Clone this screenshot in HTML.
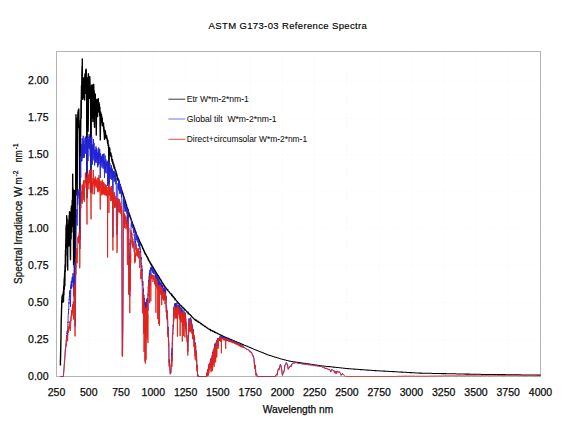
<!DOCTYPE html>
<html><head><meta charset="utf-8"><style>
html,body{margin:0;padding:0;background:#fff;}
svg{display:block;font-family:"Liberation Sans", sans-serif;}
text{stroke:#000;stroke-width:0.25px;}
.lg text{stroke-width:0.05px;}
</style></head><body>
<svg width="576" height="432" viewBox="0 0 576 432">
<rect width="576" height="432" fill="#fff"/>
<line x1="56.5" y1="51.5" x2="56.5" y2="376.5" stroke="#f6f6f6" stroke-width="1" stroke-dasharray="1,2"/><line x1="88.8" y1="51.5" x2="88.8" y2="376.5" stroke="#f6f6f6" stroke-width="1" stroke-dasharray="1,2"/><line x1="121.0" y1="51.5" x2="121.0" y2="376.5" stroke="#f6f6f6" stroke-width="1" stroke-dasharray="1,2"/><line x1="153.3" y1="51.5" x2="153.3" y2="376.5" stroke="#f6f6f6" stroke-width="1" stroke-dasharray="1,2"/><line x1="185.6" y1="51.5" x2="185.6" y2="376.5" stroke="#f6f6f6" stroke-width="1" stroke-dasharray="1,2"/><line x1="217.8" y1="51.5" x2="217.8" y2="376.5" stroke="#f6f6f6" stroke-width="1" stroke-dasharray="1,2"/><line x1="250.1" y1="51.5" x2="250.1" y2="376.5" stroke="#f6f6f6" stroke-width="1" stroke-dasharray="1,2"/><line x1="282.4" y1="51.5" x2="282.4" y2="376.5" stroke="#f6f6f6" stroke-width="1" stroke-dasharray="1,2"/><line x1="314.6" y1="51.5" x2="314.6" y2="376.5" stroke="#f6f6f6" stroke-width="1" stroke-dasharray="1,2"/><line x1="346.9" y1="51.5" x2="346.9" y2="376.5" stroke="#f6f6f6" stroke-width="1" stroke-dasharray="1,2"/><line x1="379.2" y1="51.5" x2="379.2" y2="376.5" stroke="#f6f6f6" stroke-width="1" stroke-dasharray="1,2"/><line x1="411.4" y1="51.5" x2="411.4" y2="376.5" stroke="#f6f6f6" stroke-width="1" stroke-dasharray="1,2"/><line x1="443.7" y1="51.5" x2="443.7" y2="376.5" stroke="#f6f6f6" stroke-width="1" stroke-dasharray="1,2"/><line x1="476.0" y1="51.5" x2="476.0" y2="376.5" stroke="#f6f6f6" stroke-width="1" stroke-dasharray="1,2"/><line x1="508.2" y1="51.5" x2="508.2" y2="376.5" stroke="#f6f6f6" stroke-width="1" stroke-dasharray="1,2"/><line x1="540.5" y1="51.5" x2="540.5" y2="376.5" stroke="#f6f6f6" stroke-width="1" stroke-dasharray="1,2"/><line x1="56.5" y1="376.5" x2="540.5" y2="376.5" stroke="#f6f6f6" stroke-width="1" stroke-dasharray="1,2"/><line x1="56.5" y1="339.6" x2="540.5" y2="339.6" stroke="#f6f6f6" stroke-width="1" stroke-dasharray="1,2"/><line x1="56.5" y1="302.6" x2="540.5" y2="302.6" stroke="#f6f6f6" stroke-width="1" stroke-dasharray="1,2"/><line x1="56.5" y1="265.7" x2="540.5" y2="265.7" stroke="#f6f6f6" stroke-width="1" stroke-dasharray="1,2"/><line x1="56.5" y1="228.8" x2="540.5" y2="228.8" stroke="#f6f6f6" stroke-width="1" stroke-dasharray="1,2"/><line x1="56.5" y1="191.8" x2="540.5" y2="191.8" stroke="#f6f6f6" stroke-width="1" stroke-dasharray="1,2"/><line x1="56.5" y1="154.9" x2="540.5" y2="154.9" stroke="#f6f6f6" stroke-width="1" stroke-dasharray="1,2"/><line x1="56.5" y1="118.0" x2="540.5" y2="118.0" stroke="#f6f6f6" stroke-width="1" stroke-dasharray="1,2"/><line x1="56.5" y1="81.0" x2="540.5" y2="81.0" stroke="#f6f6f6" stroke-width="1" stroke-dasharray="1,2"/>
<rect x="56.5" y="51.5" width="484" height="325" fill="none" stroke="#b4b4b4" stroke-width="1"/>
<path fill="none" stroke="#000" stroke-width="1.4" stroke-linejoin="round" d="M60.4 365.4L60.4 362.6L60.5 359.7L60.6 356.2L60.6 353.2L60.7 351.4L60.8 347.0L60.8 343.4L60.9 341.8L61.0 337.2L61.0 332.9L61.1 329.7L61.1 326.8L61.2 321.7L61.3 317.6L61.3 318.1L61.4 315.0L61.5 311.6L61.5 311.3L61.6 307.0L61.7 308.1L61.7 300.0L61.8 299.7L61.9 299.0L61.9 298.0L62.0 299.7L62.0 297.0L62.1 301.6L62.2 302.2L62.2 296.0L62.3 298.1L62.4 296.5L62.4 295.3L62.5 302.4L62.6 297.4L62.6 295.2L62.7 299.6L62.8 295.2L62.8 302.4L62.9 295.0L63.0 293.8L63.0 294.4L63.1 295.2L63.1 296.2L63.2 301.5L63.3 298.3L63.3 293.9L63.4 291.2L63.5 291.6L63.5 301.3L63.6 292.7L63.7 295.0L63.7 287.1L63.8 286.0L63.9 295.1L63.9 290.1L64.0 285.4L64.1 284.6L64.1 281.4L64.2 281.2L64.2 279.1L64.3 289.6L64.4 282.2L64.4 276.9L64.5 285.4L64.6 275.7L64.6 273.4L64.7 280.2L64.8 285.7L64.8 270.2L64.9 282.2L65.0 269.9L65.0 267.8L65.1 264.7L65.1 265.5L65.2 272.3L65.3 264.6L65.3 271.4L65.4 254.3L65.5 253.6L65.5 250.0L65.6 267.1L65.7 263.7L65.7 244.3L65.8 244.1L65.9 238.8L65.9 248.6L66.0 228.9L66.1 226.8L66.1 231.5L66.2 225.1L66.2 241.3L66.3 235.4L66.4 226.4L66.4 228.1L66.5 229.8L66.6 233.7L66.6 239.9L66.7 215.8L66.8 229.9L66.8 217.0L66.9 225.2L67.0 237.4L67.0 242.1L67.1 237.7L67.1 218.9L67.2 227.3L67.3 225.4L67.3 255.3L67.4 236.9L67.5 246.9L67.5 255.9L67.6 253.5L67.7 270.1L67.7 257.8L67.8 239.4L67.9 241.7L67.9 228.3L68.0 240.1L68.1 229.1L68.1 225.5L68.2 227.0L68.2 238.6L68.3 240.5L68.4 230.6L68.4 239.5L68.5 230.0L68.6 224.0L68.6 227.6L68.7 229.1L68.8 246.0L68.8 220.8L68.9 219.6L69.0 231.6L69.0 245.6L69.1 242.9L69.1 234.5L69.2 215.6L69.3 237.2L69.3 232.0L69.4 214.9L69.5 223.1L69.5 211.6L69.6 234.0L69.7 230.1L69.7 232.9L69.8 230.5L69.9 213.7L69.9 231.7L70.0 213.7L70.1 212.1L70.1 221.8L70.2 230.4L70.2 232.6L70.3 251.3L70.4 259.2L70.4 253.5L70.5 259.7L70.6 244.3L70.6 246.0L70.7 223.9L70.8 235.8L70.8 219.3L70.9 222.8L71.0 226.8L71.0 221.0L71.1 212.6L71.1 238.9L71.2 208.3L71.3 214.4L71.3 221.9L71.4 206.2L71.5 208.2L71.5 229.6L71.6 228.4L71.7 222.0L71.7 232.1L71.8 225.4L71.9 208.1L71.9 219.8L72.0 208.0L72.1 222.8L72.1 208.2L72.2 200.3L72.2 226.4L72.3 215.6L72.4 215.0L72.4 204.3L72.5 211.1L72.6 193.8L72.6 195.7L72.7 174.2L72.8 189.3L72.8 203.8L72.9 201.1L73.0 208.0L73.0 196.9L73.1 216.4L73.1 188.7L73.2 220.9L73.3 203.1L73.3 196.8L73.4 219.8L73.5 223.9L73.5 237.9L73.6 264.5L73.7 252.4L73.7 258.3L73.8 239.5L73.9 229.5L73.9 219.8L74.0 203.2L74.1 212.1L74.1 223.5L74.2 198.7L74.2 194.1L74.3 194.1L74.4 204.4L74.4 222.3L74.5 190.5L74.6 220.9L74.6 203.7L74.7 193.5L74.8 210.0L74.8 222.6L74.9 261.3L75.0 283.4L75.0 290.6L75.1 277.4L75.2 263.4L75.2 240.9L75.3 231.0L75.3 246.4L75.4 269.7L75.5 275.1L75.5 238.1L75.6 209.5L75.7 188.0L75.7 174.6L75.8 147.5L75.9 134.0L76.0 114.7L76.1 124.5L76.2 155.9L76.4 173.3L76.5 143.1L76.6 118.3L76.8 119.7L76.9 132.1L77.0 163.7L77.2 195.0L77.3 163.1L77.4 133.4L77.5 118.3L77.7 125.9L77.8 117.0L77.9 112.4L78.1 120.9L78.2 110.3L78.3 122.1L78.4 125.1L78.6 127.2L78.7 116.2L78.8 108.9L79.0 125.7L79.1 124.9L79.2 128.8L79.3 129.4L79.5 157.0L79.6 198.3L79.7 237.2L79.9 239.1L80.0 207.5L80.1 165.8L80.2 163.3L80.4 135.2L80.5 120.3L80.6 136.4L80.8 117.7L80.9 118.4L81.0 100.4L81.2 118.1L81.3 102.5L81.4 94.2L81.5 85.6L81.7 94.5L81.8 84.9L81.9 72.9L82.1 66.1L82.2 73.5L82.3 58.9L82.4 81.0L82.6 99.2L82.7 99.1L82.8 99.3L83.0 95.3L83.1 87.3L83.2 88.9L83.3 86.0L83.5 86.4L83.6 77.9L83.7 97.4L83.9 83.7L84.0 78.8L84.1 89.1L84.2 96.6L84.4 95.7L84.5 99.0L84.6 100.0L84.8 80.1L84.9 74.0L85.0 87.7L85.2 85.4L85.3 93.6L85.4 81.2L85.5 90.2L85.7 70.1L85.8 69.6L85.9 83.4L86.1 69.2L86.2 69.6L86.3 71.4L86.4 78.2L86.6 81.4L86.7 108.6L86.8 166.8L87.0 197.5L87.1 165.7L87.2 118.1L87.3 77.7L87.5 81.1L87.6 79.1L87.7 81.6L87.9 79.5L88.0 112.4L88.1 131.3L88.3 117.5L88.4 73.7L88.5 82.5L88.6 89.9L88.8 84.6L88.9 79.3L89.0 96.5L89.2 93.0L89.3 98.3L89.4 95.4L89.5 98.1L89.7 78.7L89.8 76.6L89.9 80.8L90.1 86.1L90.2 93.2L90.3 87.4L90.4 91.1L90.6 106.4L90.7 120.1L90.8 177.1L91.0 192.2L91.1 170.0L91.2 133.9L91.3 105.4L91.5 89.7L91.6 85.5L91.7 98.3L91.9 85.5L92.0 85.0L92.1 106.0L92.3 115.9L92.4 118.3L92.5 87.7L92.6 106.8L92.8 105.9L92.9 121.5L93.0 113.5L93.2 92.1L93.3 89.8L93.4 84.5L93.5 90.7L93.7 84.4L93.8 88.5L93.9 103.4L94.1 90.7L94.2 91.4L94.3 104.2L94.4 124.3L94.6 127.2L94.7 115.7L94.8 106.8L95.0 104.8L95.1 101.3L95.2 94.0L95.3 94.2L95.5 104.9L95.6 104.0L95.7 107.8L95.9 106.0L96.0 103.0L96.1 111.9L96.3 135.0L96.4 121.1L96.5 106.4L96.6 105.0L96.8 99.8L96.9 99.4L97.0 103.3L97.2 102.1L97.3 107.0L97.4 114.7L97.5 116.5L97.7 106.2L97.8 102.3L97.9 110.2L98.1 101.9L98.2 108.3L98.3 98.8L98.4 104.0L98.6 105.4L98.7 110.2L98.8 111.7L99.0 102.4L99.1 108.9L99.2 109.5L99.4 104.1L99.5 113.3L99.6 110.0L99.7 116.0L99.9 107.1L100.0 114.8L100.1 125.6L100.3 139.9L100.4 129.6L100.5 116.6L100.6 111.9L100.8 114.0L100.9 113.2L101.0 119.4L101.2 115.2L101.3 115.9L101.4 114.4L101.5 115.0L101.7 122.5L101.8 116.8L101.9 122.7L102.1 120.6L102.2 125.0L102.3 118.1L102.4 125.7L102.6 124.6L102.7 123.3L102.8 125.2L103.0 125.9L103.1 124.1L103.2 126.3L103.4 123.6L103.5 123.0L103.6 128.4L103.7 127.4L103.9 131.6L104.0 127.0L104.1 132.0L104.3 134.6L104.4 136.5L104.5 139.4L104.6 132.0L104.8 130.2L104.9 130.4L105.0 131.6L105.2 130.6L105.3 131.2L105.4 131.1L105.5 137.4L105.7 133.8L105.8 136.0L105.9 135.3L106.1 137.6L106.2 138.4L106.3 136.2L106.4 137.5L106.6 135.6L106.7 136.9L106.8 137.1L107.0 138.1L107.1 138.7L107.2 140.5L107.4 139.7L107.5 140.2L107.6 143.4L107.7 139.9L107.9 140.5L108.0 141.1L108.1 145.5L108.3 144.7L108.4 145.7L108.5 147.5L108.6 145.0L108.8 159.2L108.9 184.2L109.0 175.4L109.2 152.8L109.3 149.7L109.4 147.6L109.5 149.1L109.7 147.9L109.8 149.3L109.9 153.0L110.1 153.1L110.2 152.1L110.3 153.6L110.4 154.6L110.6 152.6L110.7 156.0L110.8 154.1L111.0 153.5L111.1 155.5L111.2 156.3L111.4 157.2L111.5 157.6L111.6 155.8L111.7 158.5L111.9 160.2L112.0 159.6L112.1 161.4L112.3 160.0L112.4 161.6L112.5 159.6L112.6 162.9L112.8 161.5L112.9 163.7L113.0 162.0L113.2 163.6L113.3 164.9L113.4 164.8L113.5 164.9L113.7 166.7L113.8 164.1L113.9 164.6L114.1 166.4L114.2 168.4L114.3 167.8L114.5 167.0L114.6 166.9L114.7 168.3L114.8 168.8L115.0 169.2L115.1 170.1L115.2 169.4L115.4 171.8L115.5 170.3L115.6 170.2L115.7 171.3L115.9 173.7L116.0 171.6L116.1 172.3L116.3 174.8L116.4 173.4L116.5 175.4L116.6 173.4L116.8 176.3L116.9 174.7L117.0 175.0L117.2 177.0L117.3 178.3L117.4 178.6L117.5 178.3L117.7 179.2L117.8 179.9L117.9 178.9L118.1 178.2L118.2 180.6L118.3 179.6L118.5 179.8L118.6 180.8L118.7 180.0L118.8 180.4L119.0 181.3L119.1 182.7L119.2 183.5L119.4 184.6L119.5 184.6L119.6 185.4L119.7 184.8L119.9 185.5L120.0 185.5L120.1 184.6L120.3 185.0L120.4 187.2L120.5 186.1L120.6 188.1L120.8 187.6L120.9 187.0L121.0 188.7L121.2 188.8L121.3 188.3L121.4 189.1L121.5 189.6L121.7 190.1L121.8 191.5L121.9 190.5L122.1 191.6L122.2 192.5L122.3 193.8L122.5 192.1L122.6 192.4L122.7 193.1L122.8 193.5L123.0 193.8L123.1 194.1L123.2 194.7L123.4 195.2L123.5 196.2L123.6 197.0L123.7 196.7L123.9 196.7L124.0 197.0L124.1 197.7L124.3 197.9L124.4 199.0L124.5 200.4L124.6 200.4L124.8 199.6L124.9 199.7L125.0 200.2L125.2 201.3L125.3 201.5L125.4 202.7L125.6 201.8L125.7 202.5L125.8 203.9L125.9 204.0L126.1 204.3L126.2 205.7L126.3 204.3L126.5 204.8L126.6 206.0L126.7 206.4L126.8 207.8L127.0 208.2L127.1 207.7L127.2 208.5L127.4 208.7L127.5 208.0L127.6 209.3L127.7 209.1L127.9 209.6L128.0 209.6L128.1 209.8L128.3 211.9L128.4 212.0L128.5 212.5L128.6 211.9L128.8 212.5L128.9 212.5L129.0 213.7L129.2 214.7L129.3 214.9L129.4 215.7L129.6 214.6L129.7 215.9L129.8 215.2L129.9 216.4L130.1 216.0L130.2 217.1L130.3 217.5L130.5 217.4L130.6 217.8L130.7 218.9L130.8 218.8L131.0 219.0L131.1 218.9L131.2 219.5L131.4 221.0L131.5 221.6L131.6 220.7L131.7 222.1L131.9 222.4L132.0 221.6L132.1 222.0L132.3 223.1L132.4 222.8L132.5 224.4L132.6 223.6L132.8 224.6L132.9 225.0L133.0 224.4L133.2 226.0L133.3 225.3L133.4 225.4L133.6 225.7L133.7 226.6L133.8 227.3L133.9 227.0L134.1 228.4L134.2 227.8L134.3 229.1L134.5 228.2L134.6 228.8L134.7 229.0L134.8 229.8L135.0 230.0L135.1 230.5L135.2 231.6L135.4 231.5L135.5 231.9L135.6 231.9L135.7 233.0L135.9 232.8L136.0 233.6L136.1 234.3L136.3 234.1L136.4 234.1L136.5 234.2L136.7 235.6L136.8 235.6L136.9 235.9L137.0 235.3L137.2 235.9L137.3 236.9L137.4 236.2L137.6 237.4L137.7 237.2L137.8 237.0L137.9 237.5L138.1 237.4L138.2 238.5L138.3 238.9L138.5 238.2L138.6 238.8L138.7 239.8L138.8 239.2L139.0 240.0L139.1 240.7L139.2 240.6L139.4 240.3L139.5 241.7L139.6 241.7L139.7 241.7L139.9 241.7L140.0 242.3L140.1 242.3L140.3 242.3L140.4 242.5L140.5 242.8L140.7 243.2L140.8 243.5L140.9 244.3L141.0 244.5L141.2 244.8L141.3 245.5L141.4 244.8L141.6 245.4L141.7 245.3L141.8 246.0L141.9 245.9L142.1 246.2L142.2 246.5L142.3 247.1L142.5 247.9L142.6 247.5L142.7 248.4L142.8 248.0L143.0 248.4L143.1 248.9L143.2 248.7L143.4 249.4L143.5 249.9L143.6 250.5L143.7 249.8L143.9 251.0L144.0 251.0L144.1 251.3L144.3 251.0L144.4 252.2L144.5 251.7L144.7 252.3L144.8 252.5L144.9 253.3L145.0 253.1L145.2 253.9L145.3 253.1L145.4 253.9L145.6 254.1L145.7 254.2L145.8 254.6L145.9 254.8L146.1 254.8L146.2 255.4L146.3 255.0L146.5 255.7L146.6 255.9L146.7 255.9L146.8 256.6L147.0 256.9L147.1 256.6L147.2 257.0L147.4 257.0L147.5 257.8L147.6 257.5L147.8 257.9L147.9 258.4L148.0 258.7L148.1 258.5L148.3 259.8L148.4 259.2L148.5 259.9L148.7 259.7L148.8 260.3L148.9 260.3L149.0 260.5L149.2 260.9L149.3 261.3L149.4 261.6L149.6 262.0L149.7 261.7L149.8 261.8L149.9 262.2L150.1 262.5L150.2 263.0L150.3 263.0L150.5 263.1L150.6 263.1L150.7 263.8L150.8 263.6L151.0 264.2L151.1 264.6L151.2 264.7L151.4 264.4L151.5 264.8L151.6 265.7L151.8 265.0L151.9 265.8L152.0 265.8L152.1 266.2L152.3 266.1L152.4 266.1L152.5 266.7L152.7 266.4L152.8 267.5L152.9 267.6L153.0 267.4L153.2 267.8L153.3 268.0L153.4 268.7L153.6 267.9L153.7 268.4L153.8 268.7L153.9 269.3L154.1 269.5L154.2 269.3L154.3 269.2L154.5 270.0L154.6 270.0L154.7 269.9L154.8 270.6L155.0 270.6L155.1 270.7L155.2 270.9L155.4 271.3L155.5 271.3L155.6 271.6L155.8 272.4L155.9 272.1L156.0 272.1L156.1 272.6L156.3 273.2L156.4 273.4L156.5 273.4L156.7 273.9L156.8 273.9L156.9 274.0L157.0 274.0L157.2 274.0L157.3 274.7L157.4 274.8L157.6 275.4L157.7 274.9L157.8 275.7L157.9 275.3L158.1 276.2L158.2 276.5L158.3 275.8L158.5 276.2L158.6 277.1L158.7 277.3L158.8 277.2L159.0 276.9L159.1 277.1L159.2 277.4L159.4 278.3L159.5 278.4L159.6 278.2L159.8 278.7L159.9 279.1L160.0 278.7L160.1 279.5L160.3 279.1L160.4 279.4L160.5 279.4L160.7 279.7L160.8 280.2L160.9 280.0L161.0 280.6L161.2 280.5L161.3 281.3L161.4 280.9L161.6 281.2L161.7 281.5L161.8 281.9L161.9 282.4L162.1 282.5L162.2 282.7L162.3 282.9L162.5 283.0L162.6 283.0L162.7 283.1L162.9 283.9L163.0 283.7L163.1 284.1L163.2 283.9L163.4 284.3L163.5 284.3L163.6 284.7L163.8 285.2L163.9 285.1L164.0 285.6L164.1 285.4L164.3 285.8L164.4 286.0L164.5 286.3L164.7 286.3L164.8 286.9L164.9 287.2L165.0 287.3L165.2 286.9L165.3 287.3L165.4 287.4L165.6 287.7L165.7 287.5L165.8 288.1L165.9 288.0L166.1 288.6L166.2 288.1"/>
<path fill="none" stroke="#000" stroke-width="1.05" d="M166.2 288.1L166.3 288.5L166.5 288.7L166.6 289.2L166.7 289.2L166.9 288.9L167.0 289.2L167.1 289.7L167.2 289.6L167.4 289.6L167.5 290.3L167.6 290.4L167.8 290.1L167.9 290.4L168.0 290.9L168.1 290.5L168.3 291.2L168.4 291.3L168.5 291.4L168.7 291.5L168.8 291.6L168.9 291.7L169.0 291.8L169.2 291.7L169.3 292.1L169.4 292.4L169.6 292.4L169.7 292.7L169.8 292.7L169.9 293.1L170.1 293.2L170.2 292.9L170.3 293.5L170.5 293.3L170.6 293.4L170.7 293.5L170.9 293.8L171.0 294.1L171.1 294.1L171.2 294.2L171.4 294.8L171.5 294.6L171.6 295.1L171.8 294.8L171.9 295.3L172.0 295.2L172.1 295.7L172.3 295.7L172.4 295.9L172.5 295.7L172.7 296.3L172.8 296.1L172.9 296.6L173.0 296.8L173.2 296.5L173.3 296.6L173.4 297.2L173.6 297.5L173.7 297.6L173.8 297.4L174.0 297.9L174.1 297.5L174.2 297.7L174.3 298.1L174.5 298.2L174.6 298.6L174.7 298.4L174.9 298.7L175.0 299.2L175.1 298.9L175.2 299.1L175.4 299.4L175.5 299.8L175.6 299.4L175.8 299.9L175.9 299.9L176.0 300.0L176.1 300.1L176.3 300.3L176.4 300.6L176.5 300.6L176.7 300.8L176.8 301.1L176.9 301.4L177.0 301.3L177.2 301.4L177.3 301.9L177.4 301.6L177.6 301.7L177.7 302.3L177.8 302.1L178.0 302.2L178.1 302.4L178.2 302.6L178.3 302.7L178.5 303.2L178.6 303.0L178.7 303.1L178.9 303.3L179.0 303.9L179.1 303.7L179.2 303.8L179.4 304.2L179.5 304.5L179.6 304.4L179.8 304.7L179.9 304.5L180.0 304.7L180.1 304.9L180.3 304.9L180.4 305.0L180.5 305.1L180.7 305.3L180.8 305.7L180.9 305.8L181.0 305.6L181.2 305.8L181.3 306.2L181.4 306.4L181.6 306.3L181.7 306.6L181.8 306.4L182.0 306.9L182.1 307.0L182.2 306.9L182.3 306.9L182.5 307.0L182.6 307.4L182.7 307.5L182.9 307.4L183.0 307.7L183.1 308.1L183.2 307.7L183.4 307.9L183.5 308.0L183.6 308.3L183.8 308.4L183.9 308.8L184.0 308.5L184.1 308.7L184.3 309.3L184.4 308.9L184.5 309.1L184.7 309.3L184.8 309.3L184.9 309.5L185.1 309.8L185.2 310.0L185.3 310.1L185.4 310.2L185.6 310.4L185.7 310.2L185.8 310.6L186.0 310.7L186.1 310.7L186.2 310.9L186.3 310.9L186.5 311.4L186.6 311.2L186.7 311.3L186.9 311.7L187.0 311.9L187.1 312.0L187.2 312.1L187.4 312.1L187.5 312.2L187.6 312.4L187.8 312.5L187.9 312.9L188.0 312.6L188.1 313.0L188.3 312.8L188.4 313.0L188.5 313.5L188.7 313.3L188.8 313.5L188.9 313.9L189.1 313.9L189.2 313.9L189.3 314.1L189.4 314.4L189.6 314.5L189.7 314.3L189.8 314.4L190.0 314.6L190.1 314.7L190.2 315.1L190.3 315.2L190.5 315.0L190.6 315.1L190.7 315.4L190.9 315.7L191.0 315.8L191.1 315.8L191.2 316.0L191.4 316.3L191.5 316.4L191.6 316.2L191.8 316.6L191.9 316.8L192.0 317.0L192.1 316.8L192.3 316.9L192.4 317.1L192.5 317.2L192.7 317.3L192.8 317.7L192.9 317.7L193.1 317.9L193.2 318.0L193.3 317.9L193.4 318.0L193.6 318.2L193.7 318.6L193.8 318.6L194.0 318.8L194.1 318.9L194.2 319.1L194.3 319.3L194.5 319.3L194.6 319.4L194.7 319.6L194.9 319.5L195.0 319.7L195.1 319.4L195.2 319.5L195.4 320.0L195.5 319.8L195.6 319.9L195.8 319.9L195.9 320.2L196.0 320.1L196.2 320.4L196.3 320.3L196.4 320.6L196.5 320.8L196.7 320.7L196.8 320.7L196.9 320.9L197.1 321.1L197.2 321.1L197.3 321.0L197.4 321.0L197.6 321.5L197.7 321.4L197.8 321.3L198.0 321.6L198.1 321.7L198.2 321.6L198.3 322.0L198.5 321.8L198.6 321.9L198.7 322.0L198.9 322.1L199.0 322.4L199.1 322.4L199.2 322.3L199.4 322.5L199.5 322.5L199.6 322.8L199.8 322.9L199.9 322.7L200.0 323.0L200.2 323.0L200.3 323.1L200.4 323.3L200.5 323.5L200.7 323.3L200.8 323.5L200.9 323.5L201.1 323.5L201.2 323.8L201.3 323.7L201.4 324.0L201.6 324.1L201.7 324.0L201.8 324.2L202.0 324.2L202.1 324.5L202.2 324.4L202.3 324.6L202.5 324.7L202.6 324.8L202.7 324.7L202.9 325.1L203.0 325.0L203.1 325.2L203.2 325.2L203.4 325.3L203.5 325.4L203.6 325.4L203.8 325.6L203.9 325.6L204.0 325.8L204.2 325.9L204.3 326.1L204.4 326.0L204.5 326.0L204.7 326.4L204.8 326.3L204.9 326.3L205.1 326.5L205.2 326.4L205.3 326.8L205.4 326.8L205.6 326.8L205.7 326.8L205.8 327.1L206.0 327.2L206.1 327.2L206.2 327.4L206.3 327.2L206.5 327.5L206.6 327.6L206.7 327.6L206.9 327.5L207.0 327.8L207.1 327.8L207.2 327.8L207.4 328.2L207.5 328.2L207.6 328.3L207.8 328.4L207.9 328.4L208.0 328.5L208.2 328.4L208.3 328.6L208.4 328.7L208.5 328.9L208.7 328.9L208.8 328.9L208.9 329.0L209.1 329.1L209.2 329.4L209.3 329.3L209.4 329.4L209.6 329.5L209.7 329.5L209.8 329.6L210.0 329.7L210.1 329.6L210.2 330.0L210.3 329.9L210.5 329.8L210.6 330.2L210.7 330.0L210.9 330.2L211.0 330.2L211.1 330.2L211.3 330.3L211.4 330.4L211.5 330.4L211.6 330.4L211.8 330.6L211.9 330.6L212.0 330.8L212.2 330.7L212.3 330.7L212.4 331.0L212.5 330.9L212.7 331.1L212.8 331.1L212.9 331.3L213.1 331.1L213.2 331.4L213.3 331.3L213.4 331.3L213.6 331.5L213.7 331.5L213.8 331.6L214.0 331.7L214.1 331.6L214.2 331.9L214.3 331.8L214.5 332.1L214.6 331.9L214.7 332.0L214.9 332.2L215.0 332.1L215.1 332.2L215.3 332.5L215.4 332.3L215.5 332.3L215.6 332.4L215.8 332.6L215.9 332.7L216.0 332.8L216.2 332.8L216.3 332.8L216.4 332.8L216.5 332.9L216.7 333.0L216.8 333.2L216.9 333.1L217.1 333.1L217.2 333.3L217.3 333.3L217.4 333.3L217.6 333.6L217.7 333.7L217.8 333.6L218.0 333.8L218.1 333.7L218.2 333.9L218.3 333.9L218.5 334.0L218.6 334.0L218.7 334.0L218.9 334.2L219.0 334.2L219.1 334.2L219.3 334.4L219.4 334.4L219.5 334.6L219.6 334.5L219.8 334.6L219.9 334.6L220.0 334.6L220.2 334.7L220.3 334.8L220.4 334.9L220.5 334.9L220.7 335.2L220.8 335.1L220.9 335.1L221.1 335.3L221.2 335.4L221.3 335.4L221.4 335.5L221.6 335.6L221.7 335.5L221.8 335.7L222.0 335.6L222.1 335.9L222.2 335.8L222.4 335.8L222.5 335.9L222.6 336.0L222.7 336.2L222.9 336.2L223.0 336.3L223.1 336.2L223.3 336.3L223.4 336.3L223.5 336.5L223.6 336.4L223.8 336.6L223.9 336.6L224.0 336.8L224.2 336.9L224.3 336.8L224.4 337.0L224.5 336.9L224.7 337.0L224.8 337.0L224.9 337.1L225.1 337.2L225.2 337.2L225.3 337.2L225.4 337.3L225.6 337.4L225.7 337.5L225.8 337.4L226.0 337.5L226.1 337.5L226.2 337.6L226.4 337.6L226.5 337.7L226.6 337.8L226.7 337.8L226.9 337.9L227.0 337.9L227.1 337.9L227.3 338.0L227.4 338.1L227.5 338.1L227.6 338.1L227.8 338.3L227.9 338.4L228.0 338.3L228.2 338.3L228.3 338.5L228.4 338.5L228.5 338.5L228.7 338.8L228.8 338.6L228.9 338.8L229.1 338.8L229.2 338.8L229.3 338.8L229.4 338.9L229.6 339.0L229.7 339.2L229.8 339.0L230.0 339.1L230.1 339.1L230.2 339.2L230.4 339.3L230.5 339.5L230.6 339.5L230.7 339.6L230.9 339.5L231.0 339.7L231.1 339.7L231.3 339.6L231.4 339.8L231.5 339.8L231.6 339.8L231.8 340.0L231.9 339.9L232.0 339.9L232.2 340.1L232.3 340.1L232.4 340.1L232.5 340.2L232.7 340.2L232.8 340.4L232.9 340.4L233.1 340.5L233.2 340.5L233.3 340.6L233.5 340.7L233.6 340.7L233.7 340.8L233.8 340.7L234.0 340.7L234.1 340.9L234.2 340.8L234.4 341.0L234.5 341.0L234.6 341.1L234.7 341.2L234.9 341.1L235.0 341.3L235.1 341.3L235.3 341.4L235.4 341.4L235.5 341.5L235.6 341.5L235.8 341.5L235.9 341.7L236.0 341.7L236.2 341.8L236.3 341.7L236.4 341.8L236.5 341.9L236.7 342.0L236.8 342.0L236.9 342.1L237.1 342.1L237.2 342.1L237.3 342.2L237.5 342.2L237.6 342.3L237.7 342.4L237.8 342.5L238.0 342.5L238.1 342.6L238.2 342.6L238.4 342.6L238.5 342.7L238.6 342.7L238.7 342.7L238.9 342.8L239.0 343.0L239.1 343.0L239.3 342.9L239.4 343.0L239.5 343.1L239.6 343.2L239.8 343.1L239.9 343.2L240.0 343.3L240.2 343.4L240.3 343.5L240.4 343.4L240.5 343.5L240.7 343.6L240.8 343.6L240.9 343.7L241.1 343.7L241.2 343.8L241.3 343.8L241.5 343.9L241.6 344.0L241.7 344.1L241.8 344.1L242.0 344.1L242.1 344.2L242.2 344.2L242.4 344.3L242.5 344.4L242.6 344.4L242.7 344.5L242.9 344.5L243.0 344.5L243.1 344.5L243.3 344.7L243.4 344.7L243.5 344.8L243.6 344.7L244.3 345.1L244.9 345.4L245.6 345.6L246.2 345.9L246.9 346.1L247.5 346.5L248.2 346.7L248.8 347.0L249.5 347.2L250.1 347.5L250.7 347.8L251.4 348.0L252.0 348.4L252.7 348.6L253.3 348.9L254.0 349.2L254.6 349.4L255.3 349.8L255.9 350.1L256.6 350.3L257.2 350.5L257.8 350.8L258.5 351.0L259.1 351.3L259.8 351.5L260.4 351.8L261.1 352.1L261.7 352.3L262.4 352.6L263.0 352.8L263.7 353.1L264.3 353.4L264.9 353.6L265.6 353.9L266.2 354.1L266.9 354.4L267.5 354.7L268.2 354.9L268.8 355.1L269.5 355.5L270.1 355.6L270.8 355.8L271.4 356.0L272.0 356.1L272.7 356.4L273.3 356.6L274.0 356.7L274.6 357.0L275.3 357.2L275.9 357.3L276.6 357.5L277.2 357.8L277.8 357.9L278.5 358.1L279.1 358.3L279.8 358.5L280.4 358.7L281.1 358.9L281.7 359.1L282.4 359.2L283.0 359.4L283.7 359.6L284.3 359.7L284.9 359.9L285.6 360.0L286.2 360.2L286.9 360.4L287.5 360.6L288.2 360.7L288.8 360.9L289.5 361.0L290.1 361.2L290.8 361.3L291.4 361.4L292.0 361.4L292.7 361.6L293.3 361.7L294.0 361.7L294.6 361.9L295.3 362.0L295.9 362.0L296.6 362.2L297.2 362.2L297.9 362.3L298.5 362.4L299.1 362.5L299.8 362.6L300.4 362.7L301.1 362.8L301.7 362.9L302.4 363.0L303.0 363.1L303.7 363.2L304.3 363.3L305.0 363.3L305.6 363.5L306.2 363.6L306.9 363.7L307.5 363.7L308.2 363.8L308.8 363.9L309.5 364.0L310.1 364.1L310.8 364.2L311.4 364.3L312.1 364.4L312.7 364.5L313.3 364.6L314.0 364.7L314.6 364.8L315.3 364.9L315.9 365.0L316.6 365.1L317.2 365.2L317.9 365.3L318.5 365.4L319.2 365.4L319.8 365.6L320.4 365.7L321.1 365.7L321.7 365.8L322.4 365.9L323.0 366.0L323.7 366.0L324.3 366.1L325.0 366.2L325.6 366.2L326.2 366.3L326.9 366.4L327.5 366.4L328.2 366.5L328.8 366.6L329.5 366.6L330.1 366.7L330.8 366.8L331.4 366.8L332.1 366.9L332.7 367.0L333.3 367.1L334.0 367.1L334.6 367.2L335.3 367.3L335.9 367.3L336.6 367.4L337.2 367.5L337.9 367.5L338.5 367.6L339.2 367.7L339.8 367.8L340.4 367.8L341.1 367.9L341.7 368.0L342.4 368.0L343.0 368.1L343.7 368.2L344.3 368.3L345.0 368.3L345.6 368.4L346.3 368.5L346.9 368.5L347.5 368.6L348.2 368.6L348.8 368.7L349.5 368.7L350.1 368.8L350.8 368.8L351.4 368.9L352.1 368.9L352.7 369.0L353.4 369.0L354.0 369.1L354.6 369.1L355.3 369.2L355.9 369.2L356.6 369.3L357.2 369.3L357.9 369.3L358.5 369.4L359.2 369.4L359.8 369.5L360.5 369.6L361.1 369.6L361.7 369.6L362.4 369.7L363.0 369.7L363.7 369.8L364.3 369.8L365.0 369.9L365.6 369.9L366.3 370.0L366.9 370.0L367.6 370.1L368.2 370.1L368.8 370.2L369.5 370.2L370.1 370.3L370.8 370.3L371.4 370.3L372.1 370.4L372.7 370.5L373.4 370.5L374.0 370.5L374.6 370.6L375.3 370.6L375.9 370.6L376.6 370.7L377.2 370.7L377.9 370.8L378.5 370.8L379.2 370.8L379.8 370.9L380.5 370.9L381.1 370.9L381.7 371.0L382.4 371.0L383.0 371.0L383.7 371.1L384.3 371.1L385.0 371.1L385.6 371.2L386.3 371.2L386.9 371.3L387.6 371.3L388.2 371.3L388.8 371.4L389.5 371.4L390.1 371.4L390.8 371.5L391.4 371.5L392.1 371.5L392.7 371.6L393.4 371.6L394.0 371.6L394.7 371.7L395.3 371.7L395.9 371.8L396.6 371.8L397.2 371.8L397.9 371.9L398.5 371.9L399.2 371.9L399.8 372.0L400.5 372.0L401.1 372.1L401.8 372.1L402.4 372.1L403.0 372.2L403.7 372.2L404.3 372.2L405.0 372.3L405.6 372.3L406.3 372.3L406.9 372.4L407.6 372.4L408.2 372.4L408.9 372.5L409.5 372.5L410.1 372.6L410.8 372.6L411.4 372.6L412.1 372.7L412.7 372.7L413.4 372.7L414.0 372.8L414.7 372.8L415.3 372.9L416.0 372.9L416.6 372.9L417.2 373.0L417.9 373.0L418.5 373.0L419.2 373.1L419.8 373.1L420.5 373.1L421.1 373.1L421.8 373.1L422.4 373.2L423.0 373.2L423.7 373.2L424.3 373.2L425.0 373.2L425.6 373.2L426.3 373.2L426.9 373.2L427.6 373.3L428.2 373.3L428.9 373.3L429.5 373.3L430.1 373.3L430.8 373.3L431.4 373.3L432.1 373.4L432.7 373.4L433.4 373.4L434.0 373.4L434.7 373.4L435.3 373.4L436.0 373.4L436.6 373.5L437.2 373.5L437.9 373.5L438.5 373.5L439.2 373.5L439.8 373.5L440.5 373.5L441.1 373.6L441.8 373.6L442.4 373.6L443.1 373.6L443.7 373.6L444.3 373.6L445.0 373.6L445.6 373.6L446.3 373.7L446.9 373.7L447.6 373.7L448.2 373.7L448.9 373.7L449.5 373.7L450.2 373.7L450.8 373.8L451.4 373.8L452.1 373.8L452.7 373.8L453.4 373.8L454.0 373.8L454.7 373.8L455.3 373.8L456.0 373.9L456.6 373.9L457.3 373.9L457.9 373.9L458.5 373.9L459.2 373.9L459.8 373.9L460.5 374.0L461.1 374.0L461.8 374.0L462.4 374.0L463.1 374.0L463.7 374.0L464.4 374.0L465.0 374.1L465.6 374.1L466.3 374.1L466.9 374.1L467.6 374.1L468.2 374.1L468.9 374.1L469.5 374.1L470.2 374.2L470.8 374.2L471.4 374.2L472.1 374.2L472.7 374.2L473.4 374.2L474.0 374.2L474.7 374.3L475.3 374.3L476.0 374.3L476.6 374.3L477.3 374.3L477.9 374.3L478.5 374.3L479.2 374.3L479.8 374.3L480.5 374.3L481.1 374.4L481.8 374.4L482.4 374.4L483.1 374.4L483.7 374.4L484.4 374.4L485.0 374.4L485.6 374.4L486.3 374.4L486.9 374.4L487.6 374.4L488.2 374.4L488.9 374.5L489.5 374.5L490.2 374.5L490.8 374.5L491.5 374.5L492.1 374.5L492.7 374.5L493.4 374.5L494.0 374.5L494.7 374.5L495.3 374.5L496.0 374.5L496.6 374.5L497.3 374.6L497.9 374.6L498.6 374.6L499.2 374.6L499.8 374.6L500.5 374.6L501.1 374.6L501.8 374.6L502.4 374.6L503.1 374.6L503.7 374.6L504.4 374.6L505.0 374.6L505.7 374.7L506.3 374.7L506.9 374.7L507.6 374.7L508.2 374.7L508.9 374.7L509.5 374.7L510.2 374.7L510.8 374.7L511.5 374.7L512.1 374.7L512.8 374.8L513.4 374.8L514.0 374.8L514.7 374.8L515.3 374.8L516.0 374.8L516.6 374.8L517.3 374.8L517.9 374.8L518.6 374.8L519.2 374.8L519.8 374.8L520.5 374.8L521.1 374.9L521.8 374.9L522.4 374.9L523.1 374.9L523.7 374.9L524.4 374.9L525.0 374.9L525.7 374.9L526.3 374.9L526.9 374.9L527.6 374.9L528.2 374.9L528.9 375.0L529.5 375.0L530.2 375.0L530.8 375.0L531.5 375.0L532.1 375.0L532.8 375.0L533.4 375.0L534.0 375.0L534.7 375.0L535.3 375.0L536.0 375.0L536.6 375.0L537.3 375.1L537.9 375.1L538.6 375.1L539.2 375.1L539.9 375.1L540.5 375.1"/>
<path fill="none" stroke="#2323d4" stroke-width="0.9" d="M60.4 376.5L60.4 376.5L60.5 376.5L60.6 376.5L60.6 376.5L60.7 376.5L60.8 376.5L60.8 376.5L60.9 376.5L61.0 376.5L61.0 376.5L61.1 376.5L61.1 376.5L61.2 376.5L61.3 376.5L61.3 376.5L61.4 376.5L61.5 376.5L61.5 376.5L61.6 376.5L61.7 376.5L61.7 376.5L61.8 376.5L61.9 376.5L61.9 376.5L62.0 376.5L62.0 376.5L62.1 376.5L62.2 376.5L62.2 376.5L62.3 376.5L62.4 376.5L62.4 376.5L62.5 376.5L62.6 376.5L62.6 376.5L62.7 376.5L62.8 376.5L62.8 376.5L62.9 376.5L63.0 376.5L63.0 376.5L63.1 376.5L63.1 376.5L63.2 376.5L63.3 376.5L63.3 376.5L63.4 375.7L63.5 374.9L63.5 374.1L63.6 373.2L63.7 372.5L63.7 371.7L63.8 370.7L63.9 369.8L63.9 369.1L64.0 368.2L64.1 367.6L64.1 366.7L64.2 365.6L64.2 364.7L64.3 364.0L64.4 363.2L64.4 362.0L64.5 361.2L64.6 360.9L64.6 359.5L64.7 358.3L64.8 357.9L64.8 356.7L64.9 356.1L65.0 354.9L65.0 353.7L65.1 353.7L65.1 352.4L65.2 352.3L65.3 349.7L65.3 350.2L65.4 349.2L65.5 348.4L65.5 348.6L65.6 347.1L65.7 346.6L65.7 345.7L65.8 345.5L65.9 344.5L65.9 343.6L66.0 343.2L66.1 342.6L66.1 342.1L66.2 340.5L66.2 341.2L66.3 341.1L66.4 338.9L66.4 338.5L66.5 337.7L66.6 338.4L66.6 336.9L66.7 335.5L66.8 335.1L66.8 336.3L66.9 334.8L67.0 334.3L67.0 332.7L67.1 334.0L67.1 331.1L67.2 331.1L67.3 330.4L67.3 333.0L67.4 333.0L67.5 333.4L67.5 334.1L67.6 335.3L67.7 332.7L67.7 330.0L67.8 326.0L67.9 326.0L67.9 321.8L68.0 322.9L68.1 321.1L68.1 318.7L68.2 315.7L68.2 315.3L68.3 314.1L68.4 314.1L68.4 312.7L68.5 313.6L68.6 309.4L68.6 309.2L68.7 309.9L68.8 309.5L68.8 305.6L68.9 302.4L69.0 302.2L69.0 302.8L69.1 303.6L69.1 302.5L69.2 298.9L69.3 299.9L69.3 296.6L69.4 296.1L69.5 296.9L69.5 291.2L69.6 290.9L69.7 292.3L69.7 292.0L69.8 294.4L69.9 294.4L69.9 292.4L70.0 293.9L70.1 290.1L70.1 296.4L70.2 296.0L70.2 296.4L70.3 299.8L70.4 301.7L70.4 304.2L70.5 306.8L70.6 299.8L70.6 299.2L70.7 292.0L70.8 287.0L70.8 288.3L70.9 288.7L71.0 285.6L71.0 285.8L71.1 284.7L71.1 286.3L71.2 287.9L71.3 281.0L71.3 288.4L71.4 285.1L71.5 282.1L71.5 288.1L71.6 286.7L71.7 287.5L71.7 281.5L71.8 283.5L71.9 285.3L71.9 287.1L72.0 281.3L72.1 280.8L72.1 281.9L72.2 277.2L72.2 282.8L72.3 279.6L72.4 279.5L72.4 280.4L72.5 281.3L72.6 281.3L72.6 279.0L72.7 278.8L72.8 278.0L72.8 278.4L72.9 278.8L73.0 273.2L73.0 278.1L73.1 281.8L73.1 278.8L73.2 276.8L73.3 277.8L73.3 277.2L73.4 278.4L73.5 281.1L73.5 291.2L73.6 292.7L73.7 294.7L73.7 295.9L73.8 284.7L73.9 280.3L73.9 273.1L74.0 270.3L74.1 268.8L74.1 265.2L74.2 265.0L74.2 265.3L74.3 268.0L74.4 267.5L74.4 262.3L74.5 265.8L74.6 262.3L74.6 265.4L74.7 264.9L74.8 272.0L74.8 282.4L74.9 301.8L75.0 317.8L75.0 326.5L75.1 316.4L75.2 304.7L75.2 289.1L75.3 287.3L75.3 293.8L75.4 304.3L75.5 305.0L75.5 294.9L75.6 275.5L75.7 270.8L75.7 254.5L75.8 255.7L75.9 239.9L76.0 234.8L76.1 226.6L76.2 217.8L76.4 217.6L76.5 215.6L76.6 216.6L76.8 215.3L76.9 209.1L77.0 225.6L77.2 225.5L77.3 215.4L77.4 202.4L77.5 191.6L77.7 204.8L77.8 203.6L77.9 196.7L78.1 198.4L78.2 196.1L78.3 191.7L78.4 194.1L78.6 192.0L78.7 193.5L78.8 196.0L79.0 189.5L79.1 193.2L79.2 194.4L79.3 189.1L79.5 197.0L79.6 219.9L79.7 237.0L79.9 248.9L80.0 219.2L80.1 201.6L80.2 172.3L80.4 156.7L80.5 163.6L80.6 171.1L80.8 177.5L80.9 159.3L81.0 158.0L81.2 161.0L81.3 154.2L81.4 149.1L81.5 161.5L81.7 143.9L81.8 153.6L81.9 161.0L82.1 138.2L82.2 152.2L82.3 145.7L82.4 144.5L82.6 148.6L82.7 158.2L82.8 145.9L83.0 143.4L83.1 139.7L83.2 135.8L83.3 157.9L83.5 140.8L83.6 151.0L83.7 144.6L83.9 147.4L84.0 153.4L84.1 147.7L84.2 150.8L84.4 157.7L84.5 145.0L84.6 144.7L84.8 145.4L84.9 138.4L85.0 151.5L85.2 152.6L85.3 144.2L85.4 136.5L85.5 140.1L85.7 142.3L85.8 149.8L85.9 154.0L86.1 150.4L86.2 138.2L86.3 150.6L86.4 142.9L86.6 153.4L86.7 142.3L86.8 170.1L87.0 181.8L87.1 167.5L87.2 149.8L87.3 151.7L87.5 138.4L87.6 145.3L87.7 144.1L87.9 137.0L88.0 161.2L88.1 153.5L88.3 143.2L88.4 139.5L88.5 147.0L88.6 147.4L88.8 141.7L88.9 140.8L89.0 135.1L89.2 134.2L89.3 149.1L89.4 135.9L89.5 148.3L89.7 143.7L89.8 147.4L89.9 138.2L90.1 143.5L90.2 156.3L90.3 137.6L90.4 144.5L90.6 149.0L90.7 161.6L90.8 183.5L91.0 191.9L91.1 177.6L91.2 171.0L91.3 153.1L91.5 160.3L91.6 148.2L91.7 136.7L91.9 138.9L92.0 142.0L92.1 149.3L92.3 164.7L92.4 155.7L92.5 144.5L92.6 160.0L92.8 155.9L92.9 156.4L93.0 160.6L93.2 157.4L93.3 148.4L93.4 154.5L93.5 139.1L93.7 146.2L93.8 150.3L93.9 145.6L94.1 143.2L94.2 158.0L94.3 150.0L94.4 153.1L94.6 165.4L94.7 161.1L94.8 157.8L95.0 156.3L95.1 153.0L95.2 149.5L95.3 157.5L95.5 153.1L95.6 153.8L95.7 162.4L95.9 148.4L96.0 146.4L96.1 156.6L96.3 162.7L96.4 161.4L96.5 157.5L96.6 148.1L96.8 156.4L96.9 149.3L97.0 152.3L97.2 159.1L97.3 152.4L97.4 159.3L97.5 155.6L97.7 167.3L97.8 162.3L97.9 165.6L98.1 155.9L98.2 154.2L98.3 156.2L98.4 153.5L98.6 164.6L98.7 147.5L98.8 153.3L99.0 153.4L99.1 163.7L99.2 151.4L99.4 154.5L99.5 150.3L99.6 157.9L99.7 148.9L99.9 158.2L100.0 168.5L100.1 174.2L100.3 177.8L100.4 176.8L100.5 155.7L100.6 153.4L100.8 159.6L100.9 158.2L101.0 167.6L101.2 156.3L101.3 160.2L101.4 158.6L101.5 162.5L101.7 156.7L101.8 161.6L101.9 158.8L102.1 165.7L102.2 155.1L102.3 155.1L102.4 161.8L102.6 162.2L102.7 158.7L102.8 154.0L103.0 167.5L103.1 164.8L103.2 168.7L103.4 154.2L103.5 163.1L103.6 160.8L103.7 164.7L103.9 161.4L104.0 153.5L104.1 161.4L104.3 167.4L104.4 173.7L104.5 177.8L104.6 161.0L104.8 168.7L104.9 163.7L105.0 164.3L105.2 155.6L105.3 164.6L105.4 172.4L105.5 167.1L105.7 167.6L105.8 168.4L105.9 159.3L106.1 169.2L106.2 173.4L106.3 164.3L106.4 165.3L106.6 163.7L106.7 165.9L106.8 161.3L107.0 162.2L107.1 166.1L107.2 164.5L107.4 164.7L107.5 162.0L107.6 186.0L107.7 163.9L107.9 166.4L108.0 160.6L108.1 170.3L108.3 163.9L108.4 177.1L108.5 167.7L108.6 168.4L108.8 171.0L108.9 194.8L109.0 186.8L109.2 169.0L109.3 175.0L109.4 176.5L109.5 164.4L109.7 169.4L109.8 175.2L109.9 163.0L110.1 166.4L110.2 174.4L110.3 178.9L110.4 169.2L110.6 167.8L110.7 172.1L110.8 172.2L111.0 173.0L111.1 171.2L111.2 172.5L111.4 165.3L111.5 169.6L111.6 173.5L111.7 180.0L111.9 173.2L112.0 168.5L112.1 176.8L112.3 178.9L112.4 168.9L112.5 174.7L112.6 195.0L112.8 213.6L112.9 237.3L113.0 219.0L113.2 195.7L113.3 183.6L113.4 170.8L113.5 175.4L113.7 177.7L113.8 176.5L113.9 172.9L114.1 173.6L114.2 171.2L114.3 181.6L114.5 180.7L114.6 175.3L114.7 178.6L114.8 174.6L115.0 172.4L115.1 181.3L115.2 176.7L115.4 177.2L115.5 178.6L115.6 171.4L115.7 176.1L115.9 184.3L116.0 178.0L116.1 178.1L116.3 184.8L116.4 205.2L116.5 203.1L116.6 211.3L116.8 222.4L116.9 233.7L117.0 234.5L117.2 231.8L117.3 225.4L117.4 215.2L117.5 208.5L117.7 197.3L117.8 189.8L117.9 183.5L118.1 183.0L118.2 188.6L118.3 185.7L118.5 187.0L118.6 190.4L118.7 179.6L118.8 187.2L119.0 185.8L119.1 184.7L119.2 188.0L119.4 180.9L119.5 186.6L119.6 185.1L119.7 186.4L119.9 193.7L120.0 184.5L120.1 193.4L120.3 183.8L120.4 189.4L120.5 189.5L120.6 193.1L120.8 193.1L120.9 190.1L121.0 190.9L121.2 187.5L121.3 195.2L121.4 195.1L121.5 197.3L121.7 194.8L121.8 191.1L121.9 244.1L122.1 298.4L122.2 330.0L122.3 354.8L122.5 346.6L122.6 347.2L122.7 333.8L122.8 328.8L123.0 293.1L123.1 266.8L123.2 235.0L123.4 200.1L123.5 197.5L123.6 204.3L123.7 197.2L123.9 200.2L124.0 199.5L124.1 199.6L124.3 206.9L124.4 198.8L124.5 198.8L124.6 206.3L124.8 208.7L124.9 207.3L125.0 211.6L125.2 209.6L125.3 211.1L125.4 205.2L125.6 210.1L125.7 210.9L125.8 204.3L125.9 209.8L126.1 209.5L126.2 207.2L126.3 211.4L126.5 208.9L126.6 209.3L126.7 209.0L126.8 209.7L127.0 213.6L127.1 209.2L127.2 217.6L127.4 229.7L127.5 212.0L127.6 217.8L127.7 212.0L127.9 211.7L128.0 217.1L128.1 209.2L128.3 212.8L128.4 214.6L128.5 215.3L128.6 232.6L128.8 228.1L128.9 245.2L129.0 243.0L129.2 248.4L129.3 257.9L129.4 255.8L129.6 268.2L129.7 267.1L129.8 296.5L129.9 268.5L130.1 263.2L130.2 269.3L130.3 251.6L130.5 247.9L130.6 240.5L130.7 245.0L130.8 234.7L131.0 226.4L131.1 225.0L131.2 222.9L131.4 222.7L131.5 219.6L131.6 222.3L131.7 226.5L131.9 226.9L132.0 226.2L132.1 223.1L132.3 225.8L132.4 226.7L132.5 228.1L132.6 226.2L132.8 227.8L132.9 227.0L133.0 226.2L133.2 228.5L133.3 228.4L133.4 230.9L133.6 230.2L133.7 231.9L133.8 232.9L133.9 228.9L134.1 228.8L134.2 235.7L134.3 234.6L134.5 237.1L134.6 240.0L134.7 240.8L134.8 242.2L135.0 247.2L135.1 249.7L135.2 242.7L135.4 243.1L135.5 241.0L135.6 242.3L135.7 240.6L135.9 235.5L136.0 231.6L136.1 240.4L136.3 237.9L136.4 237.0L136.5 234.1L136.7 236.6L136.8 237.2L136.9 237.3L137.0 236.8L137.2 236.3L137.3 239.8L137.4 238.7L137.6 235.5L137.7 238.2L137.8 242.5L137.9 238.6L138.1 240.6L138.2 241.4L138.3 242.3L138.5 240.8L138.6 241.9L138.7 246.3L138.8 244.1L139.0 242.1L139.1 243.1L139.2 246.0L139.4 243.2L139.5 242.6L139.6 247.3L139.7 244.2L139.9 248.8L140.0 247.5L140.1 249.9L140.3 249.7L140.4 249.2L140.5 252.5L140.7 251.3L140.8 256.0L140.9 258.9L141.0 259.4L141.2 257.2L141.3 261.9L141.4 262.2L141.6 264.5L141.7 267.3L141.8 265.6L141.9 271.5L142.1 268.7L142.2 270.7L142.3 278.4L142.5 286.0L142.6 284.9L142.7 285.0L142.8 280.9L143.0 284.2L143.1 286.5L143.2 291.6L143.4 288.7L143.5 293.8L143.6 305.2L143.7 297.3L143.9 294.8L144.0 318.8L144.1 314.5L144.3 298.0L144.4 311.4L144.5 300.9L144.7 305.5L144.8 307.9L144.9 329.5L145.0 315.0L145.2 301.9L145.3 306.6L145.4 332.8L145.6 302.6L145.7 311.7L145.8 306.8L145.9 303.3L146.1 328.8L146.2 321.0L146.3 305.6L146.5 311.5L146.6 303.1L146.7 305.8L146.8 299.3L147.0 312.4L147.1 299.1L147.2 298.5L147.4 297.8L147.5 310.6L147.6 301.4L147.8 299.8L147.9 310.9L148.0 296.3L148.1 289.5L148.3 286.6L148.4 288.1L148.5 283.7L148.7 282.5L148.8 280.3L148.9 282.4L149.0 282.1L149.2 275.9L149.3 280.8L149.4 272.7L149.6 280.1L149.7 271.1L149.8 270.3L149.9 269.8L150.1 270.4L150.2 271.8L150.3 271.4L150.5 270.4L150.6 268.2L150.7 271.0L150.8 278.5L151.0 271.1L151.1 266.8L151.2 268.6L151.4 267.5L151.5 267.2L151.6 269.9L151.8 267.3L151.9 266.8L152.0 267.6L152.1 271.0L152.3 271.0L152.4 268.1L152.5 270.5L152.7 271.1L152.8 272.8L152.9 269.2L153.0 271.6L153.2 271.8L153.3 272.6L153.4 271.3L153.6 270.6L153.7 273.1L153.8 273.7L153.9 270.8L154.1 274.0L154.2 271.1L154.3 271.1L154.5 270.2L154.6 270.7L154.7 271.8L154.8 271.5L155.0 272.8L155.1 276.2L155.2 277.0L155.4 273.4L155.5 273.7L155.6 276.1L155.8 275.3L155.9 284.1L156.0 275.5L156.1 278.2L156.3 276.0L156.4 278.7L156.5 274.4L156.7 275.3L156.8 275.8L156.9 277.5L157.0 278.2L157.2 280.8L157.3 280.9L157.4 280.6L157.6 277.1L157.7 285.0L157.8 288.3L157.9 281.9L158.1 276.4L158.2 277.4L158.3 278.2L158.5 279.0L158.6 280.9L158.7 287.4L158.8 282.2L159.0 284.0L159.1 279.9L159.2 281.3L159.4 284.5L159.5 288.9L159.6 281.4L159.8 281.8L159.9 282.9L160.0 284.2L160.1 285.0L160.3 284.2L160.4 283.6L160.5 284.5L160.7 282.5L160.8 286.9L160.9 282.9L161.0 283.8L161.2 283.0L161.3 285.8L161.4 287.7L161.6 284.7L161.7 293.4L161.8 285.3L161.9 286.2L162.1 291.0L162.2 288.5L162.3 285.0L162.5 290.7L162.6 287.9L162.7 291.8L162.9 284.9L163.0 291.5L163.1 289.8L163.2 289.3L163.4 289.5L163.5 292.5L163.6 291.3L163.8 290.1L163.9 288.4L164.0 289.3L164.1 289.5L164.3 288.7L164.4 288.0L164.5 291.7L164.7 292.5L164.8 294.8L164.9 289.1L165.0 290.5L165.2 289.5L165.3 293.4L165.4 290.1L165.6 290.1L165.7 290.5L165.8 298.7L165.9 300.6L166.1 296.0L166.2 300.9L166.3 304.1L166.5 305.7L166.6 305.6L166.7 307.0L166.9 313.5L167.0 311.1L167.1 310.4L167.2 316.0L167.4 319.9L167.5 315.2L167.6 318.7L167.8 321.2L167.9 332.6L168.0 334.6L168.1 326.9L168.3 333.0L168.4 334.7L168.5 341.4L168.7 340.7L168.8 342.2L168.9 346.7L169.0 361.0L169.2 362.6L169.3 359.3L169.4 363.1L169.6 365.6L169.7 366.2L169.8 367.5L169.9 369.9L170.1 370.8L170.2 372.9L170.3 373.9L170.5 372.1L170.6 370.3L170.7 371.8L170.9 369.9L171.0 370.0L171.1 363.7L171.2 363.8L171.4 363.6L171.5 361.5L171.6 355.3L171.8 353.0L171.9 361.6L172.0 348.1L172.1 355.3L172.3 339.5L172.4 335.8L172.5 334.3L172.7 333.9L172.8 331.4L172.9 329.6L173.0 328.1L173.2 324.6L173.3 327.0L173.4 319.6L173.6 314.1L173.7 319.9L173.8 317.2L174.0 307.2L174.1 313.6L174.2 307.5L174.3 307.6L174.5 306.3L174.6 304.2L174.7 308.2L174.9 310.3L175.0 303.0L175.1 307.7L175.2 307.7L175.4 310.3L175.5 303.3L175.6 304.6L175.8 303.7L175.9 304.7L176.0 310.7L176.1 303.9L176.3 305.0L176.4 309.5L176.5 308.7L176.7 310.2L176.8 303.1L176.9 302.5L177.0 304.5L177.2 307.1L177.3 309.3L177.4 309.7L177.6 308.2L177.7 305.0L177.8 312.5L178.0 309.0L178.1 305.1L178.2 311.1L178.3 307.7L178.5 311.5L178.6 308.5L178.7 312.6L178.9 306.3L179.0 314.3L179.1 305.2L179.2 308.7L179.4 306.9L179.5 314.8L179.6 305.6L179.8 308.5L179.9 309.6L180.0 306.6L180.1 319.9L180.3 313.1L180.4 311.5L180.5 310.1L180.7 308.5L180.8 308.0L180.9 309.9L181.0 311.9L181.2 315.7L181.3 309.7L181.4 315.0L181.6 314.0L181.7 308.5L181.8 308.7L182.0 307.9L182.1 317.1L182.2 309.8L182.3 314.3L182.5 314.1L182.6 311.2L182.7 317.8L182.9 314.1L183.0 317.4L183.1 315.0L183.2 315.8L183.4 313.6L183.5 313.2L183.6 321.5L183.8 310.7L183.9 310.5L184.0 318.5L184.1 312.8L184.3 314.9L184.4 313.7L184.5 317.6L184.7 318.2L184.8 312.4L184.9 322.9L185.1 312.8L185.2 315.8L185.3 315.1L185.4 319.3L185.6 315.3L185.7 321.6L185.8 324.4L186.0 322.3L186.1 326.3L186.2 328.5L186.3 324.3L186.5 328.4L186.6 334.3L186.7 334.4L186.9 337.2L187.0 337.1L187.1 337.5L187.2 341.3L187.4 339.1L187.5 341.1L187.6 341.3L187.8 347.6L187.9 343.0L188.0 342.6L188.1 341.4L188.3 341.6L188.4 338.5L188.5 333.3L188.7 327.4L188.8 326.7L188.9 318.4L189.1 318.7L189.2 326.3L189.3 319.9L189.4 327.3L189.6 321.8L189.7 322.2L189.8 321.5L190.0 321.7L190.1 318.4L190.2 322.9L190.3 320.9L190.5 324.8L190.6 318.7L190.7 317.6L190.9 325.8L191.0 322.8L191.1 319.5L191.2 327.3L191.4 321.6L191.5 327.0L191.6 327.1L191.8 323.5L191.9 328.4L192.0 326.7L192.1 324.6L192.3 333.6L192.4 327.4L192.5 328.8L192.7 334.2L192.8 332.8L192.9 328.8L193.1 335.1L193.2 329.5L193.3 337.6L193.4 335.9L193.6 336.8L193.7 336.1L193.8 337.6L194.0 338.5L194.1 337.3L194.2 340.8L194.3 337.3L194.5 340.1L194.6 337.7L194.7 346.8L194.9 342.7L195.0 347.0L195.1 347.9L195.2 352.6L195.4 342.7L195.5 349.0L195.6 345.4L195.8 345.4L195.9 351.4L196.0 350.3L196.2 356.0L196.3 356.8L196.4 351.7L196.5 355.1L196.7 359.0L196.8 363.5L196.9 367.9L197.1 368.3L197.2 364.9L197.3 369.3L197.4 369.3L197.6 376.0L197.7 376.1L197.8 374.5L198.0 374.8L198.1 375.2L198.2 376.0L198.3 376.3L198.5 376.5L198.6 376.5L198.7 376.5L198.9 376.5L199.0 376.5L199.1 376.5L199.2 376.5L199.4 376.5L199.5 376.5L199.6 376.5L199.8 376.5L199.9 376.5L200.0 376.5L200.2 376.5L200.3 376.5L200.4 376.5L200.5 376.5L200.7 376.5L200.8 376.5L200.9 376.5L201.1 376.5L201.2 376.5L201.3 376.5L201.4 376.5L201.6 376.5L201.7 376.5L201.8 376.5L202.0 376.5L202.1 376.5L202.2 376.5L202.3 376.5L202.5 376.5L202.6 376.5L202.7 376.5L202.9 376.5L203.0 376.5L203.1 376.5L203.2 376.5L203.4 376.5L203.5 376.5L203.6 376.5L203.8 376.5L203.9 376.5L204.0 376.5L204.2 376.5L204.3 376.5L204.4 376.5L204.5 376.5L204.7 376.5L204.8 376.5L204.9 376.5L205.1 376.5L205.2 376.5L205.3 376.5L205.4 376.5L205.6 376.5L205.7 376.5L205.8 376.5L206.0 376.5L206.1 376.5L206.2 376.5L206.3 376.5L206.5 375.8L206.6 374.7L206.7 374.5L206.9 375.9L207.0 373.2L207.1 374.6L207.2 372.6L207.4 375.4L207.5 371.3L207.6 370.3L207.8 374.7L207.9 369.4L208.0 370.5L208.2 374.1L208.3 370.7L208.4 366.7L208.5 367.6L208.7 372.9L208.8 366.3L208.9 365.0L209.1 364.1L209.2 365.9L209.3 367.1L209.4 364.8L209.6 363.1L209.7 366.8L209.8 365.3L210.0 363.4L210.1 364.0L210.2 366.2L210.3 360.8L210.5 361.0L210.6 360.0L210.7 359.5L210.9 361.3L211.0 368.3L211.1 358.0L211.3 363.0L211.4 363.1L211.5 366.3L211.6 358.4L211.8 360.2L211.9 361.9L212.0 357.0L212.2 356.3L212.3 366.8L212.4 355.3L212.5 352.1L212.7 362.0L212.8 355.4L212.9 354.1L213.1 355.6L213.2 350.4L213.3 352.7L213.4 359.7L213.6 349.4L213.7 355.7L213.8 361.4L214.0 357.8L214.1 360.1L214.2 347.8L214.3 347.3L214.5 349.5L214.6 346.7L214.7 347.4L214.9 343.6L215.0 352.4L215.1 357.8L215.3 343.8L215.4 348.9L215.5 344.1L215.6 357.4L215.8 353.1L215.9 349.4L216.0 344.5L216.2 343.5L216.3 354.1L216.4 342.2L216.5 349.5L216.7 340.6L216.8 348.8L216.9 340.6L217.1 340.5L217.2 342.2L217.3 345.8L217.4 340.4L217.6 338.3L217.7 340.5L217.8 339.5L218.0 337.9L218.1 342.2L218.2 346.1L218.3 341.1L218.5 341.0L218.6 340.2L218.7 341.2L218.9 338.6L219.0 340.8L219.1 338.7L219.3 340.5L219.4 340.0L219.5 339.1L219.6 337.8L219.8 336.4L219.9 336.9L220.0 336.7L220.2 337.3L220.3 338.4L220.4 337.3L220.5 338.8L220.7 336.3L220.8 337.9L220.9 337.3L221.1 338.0L221.2 338.5L221.3 338.6L221.4 341.1L221.6 336.5L221.7 337.9L221.8 337.3L222.0 337.2L222.1 336.4L222.2 337.2L222.4 337.7L222.5 336.8L222.6 337.4L222.7 338.4L222.9 337.7L223.0 337.4L223.1 337.2L223.3 337.9L223.4 337.4L223.5 338.0L223.6 338.1L223.8 338.5L223.9 338.6L224.0 338.3L224.2 338.1L224.3 337.3L224.4 338.3L224.5 338.0L224.7 337.6L224.8 338.5L224.9 337.8L225.1 338.9L225.2 338.5L225.3 337.8L225.4 338.0L225.6 338.4L225.7 341.3L225.8 339.3L226.0 339.3L226.1 337.8L226.2 339.1L226.4 338.6L226.5 339.3L226.6 339.6L226.7 339.1L226.9 339.1L227.0 338.6L227.1 339.4L227.3 340.2L227.4 338.6L227.5 338.6L227.6 340.3L227.8 338.5L227.9 339.8L228.0 339.2L228.2 339.6L228.3 340.4L228.4 338.9L228.5 338.9L228.7 340.3L228.8 339.1L228.9 339.3L229.1 339.7L229.2 340.2L229.3 340.5L229.4 341.0L229.6 340.0L229.7 339.3L229.8 340.3L230.0 341.1L230.1 339.8L230.2 340.5L230.4 340.3L230.5 340.7L230.6 340.7L230.7 340.0L230.9 341.2L231.0 340.5L231.1 341.5L231.3 341.3L231.4 341.2L231.5 341.0L231.6 341.7L231.8 340.3L231.9 341.1L232.0 341.0L232.2 340.5L232.3 342.4L232.4 340.6L232.5 341.2L232.7 340.8L232.8 341.3L232.9 342.0L233.1 341.5L233.2 341.7L233.3 341.8L233.5 341.2L233.6 342.2L233.7 342.6L233.8 341.5L234.0 341.4L234.1 341.4L234.2 341.2L234.4 342.9L234.5 342.4L234.6 342.3L234.7 342.5L234.9 342.4L235.0 341.9L235.1 341.6L235.3 341.5L235.4 342.3L235.5 342.0L235.6 342.8L235.8 342.6L235.9 342.6L236.0 343.4L236.2 343.6L236.3 342.5L236.4 343.0L236.5 343.1L236.7 342.7L236.8 342.9L236.9 343.6L237.1 342.8L237.2 343.3L237.3 343.4L237.5 342.5L237.6 344.1L237.7 344.2L237.8 344.2L238.0 343.2L238.1 343.4L238.2 343.8L238.4 344.5L238.5 344.2L238.6 343.9L238.7 343.9L238.9 344.5L239.0 344.7L239.1 345.3L239.3 344.5L239.4 345.2L239.5 344.7L239.6 344.4L239.8 345.3L239.9 344.3L240.0 344.7L240.2 344.9L240.3 344.3L240.4 344.6L240.5 345.3L240.7 345.6L240.8 346.0L240.9 344.7L241.1 344.8L241.2 345.4L241.3 346.4L241.5 344.9L241.6 345.4L241.7 345.9L241.8 346.2L242.0 346.5L242.1 345.9L242.2 346.8L242.4 345.6L242.5 346.3L242.6 346.4L242.7 345.8L242.9 346.6L243.0 346.9L243.1 346.7L243.3 346.9L243.4 346.3L243.5 347.5L243.6 346.7L244.3 347.3L244.9 347.7L245.6 348.1L246.2 349.2L246.9 349.0L247.5 349.5L248.2 349.6L248.8 350.1L249.5 350.4L250.1 350.8L250.7 351.8L251.4 352.0L252.0 353.5L252.7 355.5L253.3 355.7L254.0 358.7L254.6 366.3L255.3 364.9L255.9 374.3L256.6 373.7L257.2 376.5L257.8 376.5L258.5 376.5L259.1 376.5L259.8 376.5L260.4 376.5L261.1 376.5L261.7 376.5L262.4 376.5L263.0 376.5L263.7 376.5L264.3 376.5L264.9 376.5L265.6 376.5L266.2 376.5L266.9 376.5L267.5 376.5L268.2 376.5L268.8 376.5L269.5 376.5L270.1 376.5L270.8 376.5L271.4 376.5L272.0 376.5L272.7 376.5L273.3 376.5L274.0 376.5L274.6 376.5L275.3 376.5L275.9 375.3L276.6 374.2L277.2 374.6L277.8 370.5L278.5 368.7L279.1 368.8L279.8 366.1L280.4 364.4L281.1 366.2L281.7 369.7L282.4 375.1L283.0 373.3L283.7 372.1L284.3 369.8L284.9 364.7L285.6 364.5L286.2 362.4L286.9 363.3L287.5 365.0L288.2 368.5L288.8 368.1L289.5 367.3L290.1 366.1L290.8 365.6L291.4 365.5L292.0 363.6L292.7 363.3L293.3 363.0L294.0 362.9L294.6 362.7L295.3 362.8L295.9 362.5L296.6 362.8L297.2 362.7L297.9 363.0L298.5 363.2L299.1 363.1L299.8 363.5L300.4 363.4L301.1 363.6L301.7 363.5L302.4 363.5L303.0 363.7L303.7 363.6L304.3 364.1L305.0 364.2L305.6 364.4L306.2 364.0L306.9 364.3L307.5 364.4L308.2 364.4L308.8 364.3L309.5 364.5L310.1 364.6L310.8 364.9L311.4 364.9L312.1 365.4L312.7 365.2L313.3 365.1L314.0 365.4L314.6 365.5L315.3 365.8L315.9 365.5L316.6 365.6L317.2 365.9L317.9 366.1L318.5 365.9L319.2 366.3L319.8 366.0L320.4 366.4L321.1 366.4L321.7 366.7L322.4 367.0L323.0 367.3L323.7 367.4L324.3 367.6L325.0 367.9L325.6 368.8L326.2 368.2L326.9 368.3L327.5 368.8L328.2 369.1L328.8 369.9L329.5 369.1L330.1 370.2L330.8 371.3L331.4 369.7L332.1 369.7L332.7 369.9L333.3 370.5L334.0 370.3L334.6 372.2L335.3 372.8L335.9 371.0L336.6 372.7L337.2 371.1L337.9 371.7L338.5 372.1L339.2 371.6L339.8 372.5L340.4 372.9L341.1 374.8L341.7 374.4L342.4 373.5L343.0 374.1L343.7 374.6"/>
<path fill="none" stroke="#e3231b" stroke-width="0.9" d="M60.4 376.5L60.4 376.5L60.5 376.5L60.6 376.5L60.6 376.5L60.7 376.5L60.8 376.5L60.8 376.5L60.9 376.5L61.0 376.5L61.0 376.5L61.1 376.5L61.1 376.5L61.2 376.5L61.3 376.5L61.3 376.5L61.4 376.5L61.5 376.5L61.5 376.5L61.6 376.5L61.7 376.5L61.7 376.5L61.8 376.5L61.9 376.5L61.9 376.5L62.0 376.5L62.0 376.5L62.1 376.5L62.2 376.5L62.2 376.5L62.3 376.5L62.4 376.5L62.4 376.5L62.5 376.5L62.6 376.5L62.6 376.5L62.7 376.5L62.8 376.5L62.8 376.5L62.9 376.5L63.0 376.5L63.0 376.5L63.1 376.5L63.1 376.5L63.2 376.5L63.3 376.5L63.3 376.5L63.4 375.8L63.5 375.0L63.5 374.4L63.6 373.7L63.7 373.0L63.7 372.1L63.8 371.5L63.9 370.8L63.9 370.0L64.0 369.6L64.1 368.8L64.1 367.9L64.2 367.4L64.2 366.3L64.3 365.3L64.4 364.5L64.4 363.8L64.5 363.2L64.6 362.2L64.6 360.9L64.7 360.4L64.8 359.7L64.8 358.3L64.9 357.4L65.0 356.6L65.0 355.3L65.1 354.4L65.1 354.0L65.2 352.8L65.3 352.2L65.3 351.4L65.4 351.7L65.5 350.1L65.5 349.6L65.6 350.6L65.7 349.2L65.7 348.5L65.8 347.8L65.9 347.3L65.9 346.5L66.0 346.4L66.1 346.5L66.1 344.4L66.2 345.8L66.2 343.8L66.3 344.0L66.4 344.2L66.4 341.6L66.5 342.5L66.6 341.9L66.6 341.6L66.7 341.8L66.8 339.2L66.8 339.1L66.9 340.7L67.0 339.8L67.0 337.2L67.1 338.3L67.1 336.1L67.2 338.4L67.3 337.9L67.3 337.9L67.4 337.6L67.5 339.6L67.5 340.2L67.6 341.1L67.7 340.2L67.7 338.5L67.8 337.0L67.9 332.9L67.9 331.3L68.0 332.6L68.1 331.4L68.1 332.7L68.2 329.5L68.2 330.5L68.3 331.3L68.4 330.2L68.4 328.0L68.5 328.9L68.6 331.5L68.6 329.6L68.7 329.4L68.8 327.7L68.8 329.7L68.9 326.3L69.0 326.7L69.0 327.4L69.1 328.1L69.1 326.4L69.2 328.4L69.3 324.9L69.3 324.6L69.4 324.1L69.5 325.5L69.5 325.7L69.6 325.8L69.7 324.5L69.7 322.3L69.8 322.5L69.9 321.7L69.9 322.5L70.0 321.2L70.1 323.1L70.1 321.7L70.2 324.4L70.2 328.4L70.3 327.4L70.4 331.0L70.4 330.6L70.5 328.9L70.6 327.9L70.6 325.4L70.7 323.3L70.8 322.8L70.8 318.8L70.9 318.1L71.0 321.1L71.0 319.9L71.1 316.4L71.1 318.0L71.2 314.9L71.3 314.8L71.3 314.8L71.4 314.4L71.5 314.3L71.5 315.8L71.6 311.9L71.7 312.5L71.7 311.6L71.8 314.7L71.9 311.1L71.9 316.1L72.0 310.0L72.1 312.9L72.1 310.1L72.2 312.3L72.2 312.8L72.3 307.8L72.4 307.5L72.4 312.2L72.5 309.5L72.6 306.6L72.6 306.9L72.7 308.4L72.8 309.3L72.8 304.5L72.9 307.2L73.0 304.4L73.0 306.9L73.1 307.3L73.1 306.5L73.2 306.9L73.3 301.3L73.3 307.0L73.4 306.6L73.5 309.5L73.5 314.8L73.6 319.5L73.7 319.0L73.7 316.7L73.8 309.6L73.9 300.1L73.9 295.1L74.0 296.9L74.1 295.0L74.1 288.7L74.2 288.8L74.2 292.8L74.3 285.3L74.4 287.3L74.4 288.3L74.5 285.7L74.6 290.1L74.6 284.8L74.7 291.5L74.8 290.7L74.8 298.3L74.9 311.3L75.0 333.2L75.0 336.4L75.1 328.6L75.2 314.9L75.2 303.6L75.3 303.8L75.3 311.9L75.4 319.0L75.5 320.3L75.5 305.6L75.6 294.0L75.7 276.9L75.7 270.6L75.8 273.9L75.9 265.3L76.0 267.6L76.1 258.4L76.2 260.6L76.4 256.3L76.5 258.5L76.6 262.3L76.8 251.5L76.9 248.0L77.0 259.2L77.2 263.4L77.3 254.6L77.4 255.1L77.5 254.1L77.7 241.8L77.8 237.9L77.9 237.3L78.1 239.1L78.2 241.9L78.3 236.4L78.4 243.3L78.6 238.7L78.7 235.9L78.8 235.5L79.0 242.8L79.1 235.1L79.2 232.3L79.3 238.5L79.5 246.0L79.6 254.5L79.7 268.3L79.9 264.0L80.0 252.6L80.1 242.2L80.2 228.7L80.4 228.1L80.5 219.7L80.6 211.6L80.8 206.5L80.9 207.8L81.0 207.0L81.2 201.7L81.3 202.0L81.4 191.5L81.5 198.3L81.7 202.3L81.8 192.4L81.9 194.1L82.1 184.5L82.2 203.7L82.3 191.8L82.4 189.3L82.6 185.7L82.7 190.0L82.8 192.9L83.0 195.1L83.1 192.7L83.2 183.6L83.3 200.1L83.5 180.8L83.6 188.6L83.7 197.6L83.9 186.5L84.0 180.1L84.1 188.1L84.2 191.5L84.4 201.8L84.5 186.6L84.6 188.1L84.8 187.8L84.9 182.3L85.0 180.7L85.2 180.0L85.3 182.5L85.4 172.6L85.5 183.2L85.7 179.9L85.8 182.3L85.9 181.4L86.1 187.6L86.2 183.2L86.3 177.7L86.4 181.6L86.6 181.5L86.7 200.3L86.8 208.6L87.0 224.5L87.1 204.5L87.2 193.8L87.3 185.2L87.5 187.9L87.6 174.0L87.7 173.4L87.9 181.5L88.0 184.7L88.1 178.1L88.3 183.1L88.4 181.5L88.5 175.1L88.6 175.8L88.8 181.2L88.9 189.4L89.0 173.6L89.2 175.8L89.3 173.4L89.4 170.5L89.5 176.1L89.7 183.2L89.8 170.0L89.9 174.6L90.1 173.2L90.2 170.7L90.3 173.4L90.4 174.3L90.6 177.1L90.7 195.5L90.8 202.3L91.0 219.3L91.1 219.0L91.2 199.1L91.3 179.8L91.5 183.2L91.6 169.5L91.7 177.8L91.9 184.9L92.0 178.0L92.1 184.0L92.3 189.1L92.4 190.2L92.5 181.6L92.6 187.7L92.8 194.2L92.9 190.0L93.0 182.5L93.2 183.7L93.3 170.0L93.4 181.3L93.5 179.8L93.7 184.1L93.8 183.4L93.9 181.2L94.1 185.1L94.2 186.9L94.3 178.4L94.4 194.3L94.6 189.8L94.7 184.2L94.8 179.0L95.0 180.0L95.1 179.4L95.2 182.9L95.3 176.6L95.5 185.8L95.6 179.0L95.7 185.0L95.9 180.3L96.0 181.9L96.1 187.7L96.3 183.9L96.4 183.2L96.5 184.4L96.6 179.8L96.8 181.2L96.9 186.0L97.0 187.7L97.2 186.0L97.3 177.7L97.4 187.2L97.5 189.8L97.7 185.1L97.8 192.2L97.9 184.9L98.1 190.9L98.2 191.7L98.3 185.3L98.4 179.5L98.6 187.4L98.7 177.6L98.8 190.0L99.0 175.1L99.1 185.9L99.2 182.2L99.4 191.2L99.5 185.2L99.6 179.6L99.7 188.9L99.9 187.3L100.0 196.7L100.1 204.6L100.3 209.6L100.4 202.3L100.5 186.7L100.6 187.9L100.8 181.2L100.9 186.2L101.0 183.5L101.2 182.6L101.3 187.8L101.4 189.5L101.5 192.5L101.7 190.1L101.8 195.3L101.9 188.0L102.1 180.9L102.2 194.6L102.3 179.8L102.4 193.3L102.6 183.2L102.7 186.1L102.8 182.4L103.0 186.6L103.1 185.2L103.2 186.8L103.4 183.6L103.5 194.4L103.6 190.5L103.7 182.2L103.9 194.2L104.0 185.0L104.1 183.5L104.3 192.0L104.4 191.2L104.5 195.0L104.6 189.4L104.8 193.4L104.9 186.5L105.0 195.4L105.2 193.8L105.3 184.5L105.4 184.3L105.5 194.7L105.7 191.1L105.8 189.9L105.9 194.3L106.1 187.4L106.2 193.1L106.3 193.4L106.4 196.2L106.6 185.4L106.7 193.7L106.8 195.7L107.0 193.1L107.1 192.9L107.2 194.4L107.4 190.5L107.5 193.8L107.6 257.6L107.7 189.6L107.9 187.3L108.0 188.2L108.1 187.5L108.3 189.9L108.4 194.4L108.5 184.4L108.6 195.5L108.8 200.0L108.9 213.0L109.0 209.0L109.2 190.3L109.3 195.5L109.4 191.0L109.5 189.3L109.7 189.0L109.8 193.1L109.9 186.4L110.1 194.9L110.2 190.7L110.3 193.3L110.4 188.7L110.6 187.6L110.7 200.9L110.8 191.9L111.0 190.7L111.1 201.0L111.2 194.1L111.4 192.6L111.5 186.0L111.6 190.0L111.7 196.4L111.9 199.8L112.0 188.1L112.1 196.7L112.3 195.6L112.4 202.1L112.5 194.0L112.6 208.4L112.8 230.6L112.9 250.5L113.0 237.7L113.2 214.0L113.3 192.8L113.4 201.6L113.5 197.7L113.7 195.4L113.8 196.6L113.9 192.8L114.1 205.9L114.2 193.8L114.3 197.2L114.5 192.4L114.6 208.0L114.7 202.9L114.8 204.3L115.0 206.1L115.1 197.0L115.2 195.9L115.4 204.3L115.5 197.2L115.6 206.4L115.7 207.5L115.9 203.3L116.0 204.0L116.1 198.3L116.3 203.2L116.4 225.6L116.5 225.0L116.6 228.1L116.8 241.1L116.9 249.5L117.0 252.9L117.2 249.6L117.3 247.6L117.4 234.0L117.5 225.7L117.7 220.7L117.8 213.6L117.9 201.7L118.1 206.5L118.2 198.5L118.3 208.5L118.5 211.1L118.6 209.7L118.7 212.1L118.8 199.4L119.0 199.8L119.1 202.7L119.2 202.7L119.4 199.3L119.5 212.5L119.6 204.1L119.7 212.2L119.9 201.5L120.0 211.7L120.1 203.0L120.3 209.1L120.4 208.9L120.5 209.0L120.6 209.3L120.8 213.9L120.9 205.9L121.0 209.7L121.2 206.8L121.3 207.6L121.4 207.4L121.5 216.3L121.7 209.6L121.8 215.9L121.9 263.2L122.1 315.4L122.2 342.2L122.3 356.7L122.5 350.4L122.6 356.0L122.7 338.6L122.8 334.7L123.0 304.5L123.1 279.0L123.2 258.1L123.4 214.3L123.5 216.4L123.6 213.1L123.7 210.9L123.9 217.3L124.0 226.3L124.1 217.4L124.3 213.4L124.4 227.9L124.5 221.8L124.6 213.9L124.8 216.9L124.9 216.6L125.0 215.0L125.2 223.5L125.3 223.8L125.4 216.4L125.6 220.3L125.7 219.9L125.8 226.9L125.9 228.8L126.1 216.8L126.2 219.6L126.3 222.1L126.5 221.5L126.6 223.0L126.7 227.8L126.8 224.1L127.0 223.2L127.1 221.7L127.2 228.2L127.4 264.9L127.5 234.6L127.6 223.9L127.7 232.8L127.9 227.0L128.0 228.3L128.1 232.5L128.3 230.9L128.4 224.6L128.5 225.7L128.6 294.6L128.8 239.1L128.9 270.1L129.0 260.4L129.2 259.9L129.3 267.2L129.4 264.7L129.6 287.1L129.7 272.4L129.8 313.1L129.9 282.2L130.1 270.1L130.2 291.0L130.3 266.5L130.5 262.8L130.6 254.2L130.7 263.0L130.8 241.6L131.0 240.8L131.1 230.5L131.2 236.8L131.4 235.8L131.5 232.2L131.6 232.6L131.7 236.6L131.9 233.2L132.0 235.6L132.1 243.3L132.3 237.7L132.4 237.3L132.5 245.5L132.6 247.1L132.8 244.2L132.9 239.2L133.0 248.3L133.2 244.8L133.3 243.9L133.4 245.9L133.6 246.2L133.7 241.5L133.8 245.8L133.9 248.6L134.1 248.8L134.2 252.0L134.3 248.7L134.5 249.8L134.6 261.3L134.7 255.1L134.8 263.3L135.0 257.4L135.1 262.0L135.2 261.4L135.4 258.0L135.5 252.7L135.6 253.8L135.7 256.6L135.9 252.4L136.0 250.2L136.1 248.0L136.3 243.8L136.4 248.2L136.5 249.0L136.7 250.7L136.8 255.9L136.9 253.7L137.0 248.1L137.2 249.5L137.3 251.7L137.4 255.0L137.6 250.7L137.7 251.1L137.8 252.3L137.9 256.8L138.1 251.4L138.2 248.5L138.3 254.4L138.5 258.3L138.6 254.3L138.7 248.3L138.8 251.7L139.0 253.8L139.1 253.8L139.2 250.9L139.4 252.9L139.5 255.6L139.6 257.0L139.7 267.9L139.9 260.1L140.0 260.0L140.1 254.7L140.3 256.8L140.4 263.2L140.5 263.3L140.7 264.8L140.8 264.1L140.9 279.2L141.0 269.9L141.2 271.3L141.3 278.9L141.4 271.5L141.6 274.7L141.7 270.8L141.8 273.9L141.9 277.8L142.1 282.4L142.2 284.6L142.3 297.6L142.5 313.4L142.6 308.8L142.7 309.4L142.8 292.5L143.0 292.4L143.1 295.9L143.2 311.1L143.4 298.6L143.5 314.0L143.6 333.5L143.7 312.5L143.9 299.6L144.0 351.9L144.1 345.9L144.3 311.6L144.4 334.4L144.5 305.2L144.7 323.3L144.8 322.0L144.9 361.5L145.0 339.5L145.2 308.0L145.3 316.8L145.4 363.7L145.6 311.3L145.7 330.5L145.8 311.2L145.9 312.1L146.1 359.7L146.2 349.2L146.3 313.4L146.5 331.3L146.6 310.0L146.7 321.7L146.8 307.2L147.0 339.3L147.1 305.3L147.2 301.9L147.4 302.7L147.5 336.4L147.6 318.6L147.8 314.7L147.9 342.9L148.0 315.9L148.1 293.6L148.3 293.2L148.4 296.2L148.5 289.5L148.7 286.8L148.8 290.9L148.9 285.8L149.0 291.1L149.2 283.1L149.3 290.7L149.4 281.7L149.6 303.2L149.7 282.0L149.8 278.4L149.9 275.7L150.1 279.7L150.2 280.1L150.3 277.3L150.5 285.7L150.6 276.3L150.7 282.1L150.8 301.4L151.0 282.2L151.1 278.8L151.2 275.1L151.4 273.9L151.5 277.7L151.6 277.3L151.8 275.1L151.9 278.8L152.0 276.3L152.1 274.5L152.3 275.0L152.4 275.7L152.5 275.7L152.7 275.1L152.8 276.2L152.9 282.0L153.0 281.6L153.2 275.1L153.3 277.0L153.4 276.7L153.6 276.3L153.7 275.8L153.8 279.5L153.9 277.2L154.1 276.4L154.2 280.1L154.3 279.6L154.5 284.2L154.6 284.0L154.7 282.0L154.8 280.0L155.0 277.3L155.1 282.1L155.2 284.7L155.4 285.9L155.5 286.1L155.6 284.2L155.8 280.8L155.9 312.8L156.0 280.7L156.1 281.3L156.3 279.5L156.4 281.7L156.5 287.2L156.7 285.0L156.8 284.9L156.9 280.2L157.0 284.5L157.2 283.4L157.3 289.1L157.4 287.0L157.6 283.7L157.7 319.2L157.8 302.4L157.9 285.8L158.1 286.4L158.2 285.4L158.3 291.4L158.5 289.0L158.6 286.3L158.7 324.2L158.8 288.7L159.0 289.8L159.1 289.5L159.2 285.9L159.4 287.7L159.5 325.8L159.6 285.5L159.8 286.5L159.9 286.6L160.0 287.3L160.1 288.8L160.3 288.1L160.4 292.6L160.5 287.6L160.7 292.8L160.8 294.7L160.9 291.0L161.0 294.6L161.2 286.7L161.3 288.4L161.4 286.8L161.6 291.4L161.7 305.1L161.8 292.1L161.9 289.6L162.1 288.4L162.2 295.3L162.3 298.9L162.5 289.1L162.6 295.8L162.7 291.1L162.9 296.3L163.0 295.8L163.1 297.6L163.2 300.3L163.4 292.7L163.5 300.4L163.6 291.6L163.8 298.5L163.9 292.0L164.0 291.9L164.1 294.9L164.3 292.5L164.4 300.0L164.5 292.1L164.7 293.9L164.8 297.6L164.9 301.6L165.0 304.1L165.2 297.2L165.3 294.1L165.4 295.1L165.6 299.7L165.7 295.2L165.8 306.5L165.9 306.4L166.1 306.1L166.2 312.2L166.3 306.5L166.5 313.8L166.6 309.7L166.7 313.0L166.9 319.1L167.0 318.2L167.1 311.5L167.2 321.3L167.4 322.8L167.5 323.7L167.6 325.6L167.8 332.4L167.9 337.1L168.0 335.5L168.1 329.7L168.3 333.9L168.4 338.3L168.5 346.3L168.7 343.5L168.8 345.1L168.9 349.7L169.0 365.8L169.2 366.5L169.3 362.3L169.4 365.4L169.6 367.3L169.7 367.7L169.8 368.6L169.9 370.5L170.1 370.7L170.2 373.6L170.3 374.3L170.5 372.9L170.6 371.0L170.7 373.5L170.9 372.2L171.0 372.5L171.1 364.8L171.2 364.5L171.4 364.5L171.5 364.0L171.6 358.7L171.8 355.8L171.9 366.8L172.0 356.3L172.1 360.6L172.3 342.9L172.4 343.8L172.5 341.8L172.7 338.8L172.8 333.0L172.9 334.3L173.0 332.5L173.2 327.9L173.3 328.0L173.4 328.1L173.6 317.3L173.7 322.0L173.8 312.4L174.0 314.0L174.1 318.1L174.2 306.2L174.3 312.8L174.5 312.3L174.6 313.0L174.7 311.7L174.9 314.0L175.0 307.8L175.1 310.1L175.2 315.6L175.4 307.3L175.5 316.9L175.6 318.5L175.8 312.5L175.9 308.3L176.0 309.6L176.1 311.7L176.3 313.7L176.4 318.0L176.5 310.3L176.7 307.6L176.8 308.5L176.9 318.8L177.0 308.1L177.2 307.6L177.3 305.4L177.4 336.6L177.6 312.1L177.7 318.0L177.8 314.4L178.0 315.3L178.1 315.2L178.2 312.7L178.3 310.1L178.5 307.3L178.6 311.1L178.7 308.1L178.9 309.6L179.0 311.9L179.1 314.3L179.2 312.3L179.4 310.3L179.5 318.5L179.6 311.3L179.8 312.2L179.9 310.2L180.0 308.7L180.1 336.1L180.3 314.8L180.4 315.5L180.5 321.1L180.7 321.8L180.8 317.0L180.9 322.4L181.0 316.1L181.2 322.2L181.3 315.5L181.4 313.1L181.6 316.0L181.7 311.7L181.8 315.0L182.0 312.2L182.1 316.1L182.2 311.4L182.3 341.6L182.5 317.5L182.6 325.2L182.7 325.5L182.9 319.1L183.0 316.1L183.1 320.7L183.2 324.4L183.4 320.8L183.5 313.1L183.6 336.0L183.8 317.4L183.9 324.5L184.0 320.6L184.1 326.3L184.3 312.4L184.4 321.0L184.5 314.6L184.7 318.7L184.8 324.5L184.9 337.4L185.1 314.7L185.2 325.2L185.3 315.1L185.4 316.8L185.6 315.8L185.7 328.9L185.8 318.5L186.0 329.7L186.1 327.0L186.2 331.5L186.3 325.4L186.5 331.1L186.6 333.9L186.7 333.5L186.9 338.7L187.0 335.0L187.1 337.2L187.2 342.6L187.4 340.5L187.5 346.3L187.6 346.7L187.8 355.5L187.9 348.4L188.0 348.3L188.1 351.3L188.3 338.9L188.4 337.7L188.5 336.9L188.7 333.7L188.8 333.2L188.9 331.3L189.1 325.8L189.2 331.1L189.3 323.3L189.4 322.8L189.6 327.8L189.7 331.6L189.8 320.0L190.0 324.3L190.1 323.5L190.2 319.6L190.3 319.4L190.5 329.5L190.6 331.4L190.7 325.2L190.9 321.1L191.0 332.4L191.1 324.6L191.2 322.8L191.4 330.6L191.5 330.0L191.6 330.7L191.8 326.4L191.9 328.5L192.0 327.8L192.1 333.8L192.3 328.6L192.4 335.7L192.5 339.2L192.7 337.2L192.8 329.3L192.9 335.7L193.1 333.2L193.2 333.3L193.3 337.1L193.4 337.9L193.6 334.1L193.7 335.4L193.8 346.8L194.0 334.8L194.1 338.2L194.2 340.4L194.3 340.4L194.5 343.1L194.6 343.5L194.7 350.7L194.9 344.3L195.0 356.2L195.1 344.0L195.2 359.7L195.4 343.7L195.5 349.3L195.6 351.5L195.8 353.5L195.9 356.0L196.0 352.9L196.2 361.4L196.3 360.3L196.4 352.2L196.5 357.2L196.7 360.6L196.8 366.0L196.9 371.2L197.1 371.5L197.2 366.0L197.3 371.1L197.4 369.7L197.6 376.4L197.7 376.4L197.8 374.8L198.0 374.9L198.1 375.2L198.2 376.2L198.3 376.4L198.5 376.5L198.6 376.5L198.7 376.5L198.9 376.5L199.0 376.5L199.1 376.5L199.2 376.5L199.4 376.5L199.5 376.5L199.6 376.5L199.8 376.5L199.9 376.5L200.0 376.5L200.2 376.5L200.3 376.5L200.4 376.5L200.5 376.5L200.7 376.5L200.8 376.5L200.9 376.5L201.1 376.5L201.2 376.5L201.3 376.5L201.4 376.5L201.6 376.5L201.7 376.5L201.8 376.5L202.0 376.5L202.1 376.5L202.2 376.5L202.3 376.5L202.5 376.5L202.6 376.5L202.7 376.5L202.9 376.5L203.0 376.5L203.1 376.5L203.2 376.5L203.4 376.5L203.5 376.5L203.6 376.5L203.8 376.5L203.9 376.5L204.0 376.5L204.2 376.5L204.3 376.5L204.4 376.5L204.5 376.5L204.7 376.5L204.8 376.5L204.9 376.5L205.1 376.5L205.2 376.5L205.3 376.5L205.4 376.5L205.6 376.5L205.7 376.5L205.8 376.5L206.0 376.5L206.1 376.5L206.2 376.5L206.3 376.5L206.5 376.1L206.6 375.0L206.7 374.6L206.9 376.3L207.0 373.8L207.1 375.5L207.2 372.3L207.4 376.1L207.5 371.6L207.6 370.9L207.8 375.8L207.9 369.4L208.0 371.0L208.2 375.6L208.3 372.5L208.4 368.2L208.5 368.7L208.7 374.2L208.8 366.6L208.9 366.4L209.1 366.7L209.2 364.6L209.3 370.4L209.4 365.5L209.6 362.9L209.7 370.1L209.8 367.2L210.0 365.4L210.1 366.5L210.2 367.3L210.3 362.6L210.5 359.9L210.6 362.5L210.7 362.0L210.9 361.5L211.0 372.2L211.1 360.5L211.3 366.2L211.4 365.6L211.5 370.9L211.6 359.1L211.8 363.6L211.9 367.7L212.0 362.9L212.2 355.3L212.3 371.1L212.4 355.3L212.5 356.9L212.7 368.4L212.8 361.2L212.9 353.3L213.1 363.1L213.2 351.8L213.3 355.0L213.4 364.9L213.6 349.5L213.7 358.4L213.8 363.3L214.0 358.6L214.1 366.8L214.2 349.8L214.3 350.6L214.5 350.8L214.6 347.0L214.7 351.4L214.9 345.9L215.0 356.4L215.1 362.4L215.3 348.4L215.4 356.7L215.5 348.5L215.6 362.2L215.8 358.9L215.9 352.4L216.0 350.3L216.2 342.3L216.3 355.9L216.4 342.0L216.5 355.6L216.7 344.2L216.8 357.5L216.9 344.0L217.1 340.4L217.2 343.3L217.3 345.1L217.4 341.3L217.6 342.6L217.7 339.0L217.8 340.4L218.0 339.1L218.1 341.1L218.2 348.7L218.3 342.0L218.5 344.8L218.6 338.2L218.7 338.2L218.9 339.8L219.0 339.9L219.1 338.7L219.3 339.8L219.4 339.0L219.5 339.2L219.6 338.1L219.8 337.0L219.9 340.7L220.0 339.0L220.2 338.9L220.3 338.7L220.4 339.0L220.5 341.7L220.7 338.5L220.8 338.8L220.9 338.1L221.1 338.3L221.2 337.4L221.3 340.3L221.4 353.3L221.6 340.1L221.7 339.7L221.8 337.8L222.0 338.9L222.1 337.9L222.2 339.0L222.4 337.9L222.5 337.9L222.6 338.0L222.7 338.5L222.9 337.9L223.0 338.0L223.1 338.2L223.3 340.3L223.4 339.8L223.5 339.1L223.6 339.9L223.8 338.1L223.9 338.9L224.0 338.1L224.2 339.8L224.3 338.0L224.4 340.6L224.5 338.8L224.7 339.8L224.8 340.0L224.9 338.9L225.1 338.5L225.2 338.9L225.3 339.1L225.4 339.8L225.6 339.3L225.7 348.8L225.8 340.1L226.0 339.2L226.1 340.9L226.2 339.7L226.4 339.0L226.5 339.2L226.6 339.8L226.7 340.0L226.9 339.2L227.0 341.1L227.1 339.4L227.3 340.5L227.4 339.3L227.5 339.9L227.6 339.8L227.8 340.9L227.9 339.9L228.0 340.2L228.2 340.9L228.3 341.0L228.4 340.1L228.5 339.9L228.7 339.6L228.8 341.6L228.9 340.4L229.1 341.5L229.2 340.6L229.3 341.7L229.4 341.6L229.6 341.2L229.7 340.8L229.8 340.7L230.0 340.9L230.1 342.2L230.2 340.9L230.4 341.9L230.5 340.8L230.6 341.3L230.7 341.7L230.9 340.6L231.0 342.2L231.1 342.2L231.3 342.2L231.4 342.2L231.5 341.3L231.6 341.2L231.8 341.5L231.9 342.4L232.0 342.2L232.2 342.0L232.3 341.2L232.4 341.5L232.5 342.4L232.7 343.2L232.8 342.6L232.9 342.0L233.1 341.5L233.2 341.8L233.3 342.8L233.5 342.3L233.6 342.6L233.7 341.8L233.8 342.5L234.0 342.3L234.1 342.2L234.2 343.5L234.4 343.1L234.5 342.3L234.6 342.9L234.7 343.8L234.9 342.9L235.0 343.4L235.1 342.2L235.3 342.2L235.4 342.5L235.5 343.7L235.6 342.6L235.8 344.3L235.9 342.9L236.0 343.3L236.2 343.5L236.3 344.4L236.4 343.6L236.5 344.3L236.7 343.8L236.8 342.9L236.9 344.2L237.1 344.1L237.2 344.5L237.3 343.8L237.5 343.7L237.6 343.8L237.7 344.6L237.8 344.3L238.0 345.2L238.1 344.1L238.2 344.5L238.4 344.5L238.5 344.9L238.6 345.5L238.7 344.0L238.9 344.5L239.0 344.3L239.1 344.6L239.3 344.2L239.4 346.1L239.5 344.6L239.6 345.8L239.8 345.8L239.9 345.6L240.0 344.8L240.2 345.7L240.3 346.8L240.4 345.8L240.5 346.3L240.7 346.7L240.8 346.5L240.9 346.3L241.1 346.8L241.2 345.9L241.3 347.2L241.5 345.6L241.6 346.4L241.7 345.9L241.8 346.4L242.0 346.8L242.1 346.7L242.2 347.2L242.4 346.0L242.5 346.3L242.6 346.3L242.7 346.9L242.9 346.3L243.0 347.7L243.1 347.5L243.3 346.7L243.4 347.4L243.5 346.5L243.6 347.4L244.3 347.5L244.9 348.5L245.6 348.3L246.2 349.0L246.9 349.7L247.5 349.4L248.2 349.6L248.8 350.1L249.5 352.0L250.1 352.5L250.7 352.4L251.4 352.2L252.0 353.6L252.7 356.5L253.3 356.0L254.0 359.5L254.6 368.7L255.3 365.0L255.9 375.5L256.6 373.9L257.2 376.5L257.8 376.5L258.5 376.5L259.1 376.5L259.8 376.5L260.4 376.5L261.1 376.5L261.7 376.5L262.4 376.5L263.0 376.5L263.7 376.5L264.3 376.5L264.9 376.5L265.6 376.5L266.2 376.5L266.9 376.5L267.5 376.5L268.2 376.5L268.8 376.5L269.5 376.5L270.1 376.5L270.8 376.5L271.4 376.5L272.0 376.5L272.7 376.5L273.3 376.5L274.0 376.5L274.6 376.5L275.3 376.5L275.9 375.3L276.6 374.4L277.2 375.4L277.8 370.4L278.5 368.9L279.1 370.2L279.8 367.2L280.4 364.5L281.1 366.2L281.7 369.8L282.4 375.5L283.0 373.4L283.7 372.6L284.3 370.9L284.9 365.7L285.6 365.0L286.2 363.2L286.9 363.8L287.5 364.9L288.2 369.6L288.8 368.5L289.5 367.3L290.1 366.2L290.8 366.3L291.4 366.8L292.0 363.7L292.7 363.3L293.3 363.1L294.0 363.0L294.6 363.4L295.3 362.5L295.9 362.7L296.6 362.6L297.2 363.1L297.9 363.5L298.5 363.7L299.1 363.2L299.8 363.4L300.4 363.2L301.1 363.5L301.7 363.9L302.4 364.2L303.0 364.1L303.7 364.4L304.3 364.2L305.0 364.0L305.6 364.1L306.2 364.1L306.9 364.4L307.5 364.5L308.2 364.9L308.8 365.1L309.5 364.9L310.1 364.7L310.8 365.4L311.4 364.9L312.1 365.0L312.7 365.0L313.3 365.6L314.0 365.8L314.6 365.4L315.3 365.8L315.9 365.4L316.6 365.9L317.2 365.8L317.9 366.0L318.5 366.2L319.2 366.2L319.8 366.5L320.4 366.1L321.1 366.4L321.7 366.6L322.4 367.0L323.0 367.5L323.7 367.8L324.3 368.2L325.0 367.5L325.6 368.8L326.2 368.1L326.9 368.7L327.5 369.1L328.2 368.9L328.8 370.0L329.5 369.5L330.1 370.5L330.8 372.2L331.4 369.9L332.1 369.8L332.7 370.1L333.3 370.6L334.0 370.5L334.6 373.0L335.3 373.7L335.9 371.7L336.6 373.7L337.2 371.9L337.9 371.7L338.5 372.2L339.2 371.5L339.8 372.8L340.4 373.1L341.1 375.5L341.7 374.9L342.4 373.9L343.0 374.2L343.7 374.7L344.3 375.6L345.0 376.2L345.6 376.4L346.3 376.4L346.9 376.5L347.5 376.5L348.2 376.5L348.8 376.5L349.5 376.5L350.1 376.5L350.8 376.5L351.4 376.5L352.1 376.5L352.7 376.5L353.4 376.5L354.0 376.5L354.6 376.5L355.3 376.5L355.9 376.5L356.6 376.5L357.2 376.5L357.9 376.5L358.5 376.5L359.2 376.5L359.8 376.5L360.5 376.5L361.1 376.5L361.7 376.5L362.4 376.5L363.0 376.5L363.7 376.5L364.3 376.5L365.0 376.5L365.6 376.5L366.3 376.5L366.9 376.5L367.6 376.5L368.2 376.5L368.8 376.5L369.5 376.5L370.1 376.5L370.8 376.5L371.4 376.5L372.1 376.5L372.7 376.5L373.4 376.5L374.0 376.5L374.6 376.5L375.3 376.5L375.9 376.5L376.6 376.5L377.2 376.5L377.9 376.5L378.5 376.5L379.2 376.5L379.8 376.5L380.5 376.5L381.1 376.5L381.7 376.5L382.4 376.5L383.0 376.5L383.7 376.5L384.3 376.5L385.0 376.5L385.6 376.5L386.3 376.5L386.9 376.5L387.6 376.5L388.2 376.5L388.8 376.5L389.5 376.5L390.1 376.5L390.8 376.5L391.4 376.5L392.1 376.5L392.7 376.5L393.4 376.5L394.0 376.5L394.7 376.5L395.3 376.5L395.9 376.5L396.6 376.4L397.2 376.3L397.9 376.3L398.5 376.3L399.2 376.3L399.8 376.2L400.5 376.3L401.1 376.3L401.8 376.2L402.4 376.2L403.0 376.2L403.7 376.2L404.3 376.1L405.0 376.2L405.6 376.1L406.3 376.1L406.9 376.2L407.6 376.2L408.2 376.2L408.9 376.1L409.5 376.1L410.1 376.1L410.8 376.1L411.4 376.2L412.1 376.1L412.7 376.1L413.4 376.1L414.0 376.2L414.7 376.1L415.3 376.3L416.0 376.3L416.6 376.2L417.2 376.2L417.9 376.2L418.5 376.2L419.2 376.2L419.8 376.3L420.5 376.2L421.1 376.2L421.8 376.3L422.4 376.2L423.0 376.3L423.7 376.2L424.3 376.3L425.0 376.2L425.6 376.2L426.3 376.3L426.9 376.2L427.6 376.2L428.2 376.2L428.9 376.1L429.5 376.1L430.1 376.0L430.8 376.1L431.4 376.0L432.1 376.0L432.7 376.1L433.4 376.1L434.0 376.0L434.7 375.9L435.3 376.0L436.0 375.9L436.6 376.0L437.2 376.0L437.9 376.0L438.5 375.9L439.2 376.0L439.8 375.8L440.5 376.0L441.1 375.9L441.8 375.9L442.4 376.1L443.1 375.7L443.7 375.8L444.3 375.8L445.0 375.9L445.6 375.7L446.3 375.7L446.9 375.8L447.6 375.9L448.2 376.0L448.9 375.6L449.5 375.7L450.2 375.7L450.8 375.7L451.4 375.8L452.1 375.7L452.7 375.6L453.4 375.8L454.0 375.8L454.7 375.7L455.3 375.8L456.0 375.9L456.6 375.8L457.3 375.8L457.9 375.6L458.5 375.7L459.2 375.6L459.8 375.6L460.5 375.7L461.1 375.8L461.8 375.8L462.4 375.9L463.1 375.6L463.7 375.7L464.4 375.8L465.0 375.6L465.6 375.9L466.3 375.6L466.9 375.6L467.6 375.6L468.2 375.6L468.9 375.8L469.5 375.8L470.2 375.6L470.8 375.7L471.4 375.6L472.1 375.8L472.7 375.6L473.4 375.8L474.0 375.6L474.7 375.6L475.3 375.8L476.0 375.6L476.6 375.8L477.3 375.7L477.9 375.8L478.5 375.8L479.2 375.8L479.8 375.6L480.5 375.8L481.1 375.7L481.8 375.6L482.4 375.4L483.1 375.4L483.7 375.7L484.4 375.8L485.0 375.4L485.6 375.5L486.3 375.5L486.9 375.4L487.6 375.4L488.2 375.7L488.9 375.6L489.5 375.7L490.2 375.4L490.8 375.7L491.5 375.8L492.1 375.6L492.7 375.4L493.4 375.4L494.0 375.5L494.7 375.7L495.3 375.5L496.0 375.4L496.6 375.3L497.3 375.5L497.9 375.4L498.6 375.5L499.2 375.5L499.8 375.4L500.5 375.3L501.1 375.6L501.8 375.4L502.4 375.6L503.1 375.5L503.7 375.7L504.4 375.4L505.0 375.7L505.7 375.7L506.3 375.5L506.9 375.4L507.6 375.4L508.2 375.5L508.9 375.4L509.5 375.5L510.2 375.4L510.8 375.6L511.5 375.6L512.1 375.6L512.8 375.7L513.4 375.5L514.0 375.4L514.7 375.4L515.3 375.5L516.0 375.5L516.6 375.5L517.3 375.5L517.9 375.4L518.6 375.7L519.2 375.8L519.8 375.6L520.5 375.6L521.1 375.4L521.8 375.5L522.4 375.8L523.1 375.8L523.7 375.4L524.4 375.8L525.0 375.5L525.7 375.8L526.3 375.5L526.9 375.7L527.6 375.8L528.2 375.5L528.9 375.5L529.5 375.6L530.2 375.6L530.8 375.8L531.5 375.6L532.1 375.5L532.8 375.8L533.4 375.7L534.0 375.7L534.7 375.7L535.3 375.9L536.0 375.6L536.6 375.6L537.3 375.9L537.9 375.7L538.6 375.5L539.2 375.8L539.9 375.8L540.5 375.6"/>
<g font-size="10.5" fill="#111"><text x="56.5" y="395.5" text-anchor="middle">250</text><text x="88.8" y="395.5" text-anchor="middle">500</text><text x="121.0" y="395.5" text-anchor="middle">750</text><text x="153.3" y="395.5" text-anchor="middle">1000</text><text x="185.6" y="395.5" text-anchor="middle">1250</text><text x="217.8" y="395.5" text-anchor="middle">1500</text><text x="250.1" y="395.5" text-anchor="middle">1750</text><text x="282.4" y="395.5" text-anchor="middle">2000</text><text x="314.6" y="395.5" text-anchor="middle">2250</text><text x="346.9" y="395.5" text-anchor="middle">2500</text><text x="379.2" y="395.5" text-anchor="middle">2750</text><text x="411.4" y="395.5" text-anchor="middle">3000</text><text x="443.7" y="395.5" text-anchor="middle">3250</text><text x="476.0" y="395.5" text-anchor="middle">3500</text><text x="508.2" y="395.5" text-anchor="middle">3750</text><text x="540.5" y="395.5" text-anchor="middle">4000</text></g>
<g font-size="10.5" fill="#111"><text x="48.5" y="379.7" text-anchor="end">0.00</text><text x="48.5" y="342.8" text-anchor="end">0.25</text><text x="48.5" y="305.8" text-anchor="end">0.50</text><text x="48.5" y="268.9" text-anchor="end">0.75</text><text x="48.5" y="232.0" text-anchor="end">1.00</text><text x="48.5" y="195.0" text-anchor="end">1.25</text><text x="48.5" y="158.1" text-anchor="end">1.50</text><text x="48.5" y="121.2" text-anchor="end">1.75</text><text x="48.5" y="84.2" text-anchor="end">2.00</text></g>
<text x="208.6" y="29.3" font-size="9.5" fill="#000" style="stroke-width:0.15px" textLength="158.3" lengthAdjust="spacing">ASTM G173-03 Reference Spectra</text>
<text x="298" y="413.3" text-anchor="middle" font-size="10.2" fill="#111">Wavelength nm</text>
<g transform="translate(21.8,0) rotate(-90)" font-size="10.8" fill="#111">
<text x="-284" y="0" textLength="83.4" lengthAdjust="spacingAndGlyphs">Spectral Irradiance</text>
<text x="-197" y="0" textLength="10.4" lengthAdjust="spacingAndGlyphs">W</text>
<text x="-184.4" y="0" textLength="7.2" lengthAdjust="spacingAndGlyphs">m</text>
<text x="-176.4" y="-4.3" font-size="7.2" textLength="6" lengthAdjust="spacingAndGlyphs">-2</text>
<text x="-162.2" y="0" textLength="12" lengthAdjust="spacingAndGlyphs">nm</text>
<text x="-149.2" y="-4.3" font-size="7.2" textLength="5.6" lengthAdjust="spacingAndGlyphs">-1</text>
</g>
<g class="lg" font-size="8.6" fill="#111">
<line x1="168.4" y1="99.2" x2="185.3" y2="99.2" stroke="#3a3a3a" stroke-width="1"/>
<text x="186.8" y="101.9" textLength="62" lengthAdjust="spacing">Etr W*m-2*nm-1</text>
<line x1="168.4" y1="119.0" x2="185.3" y2="119.0" stroke="#7070ee" stroke-width="1"/>
<text x="186.8" y="121.9" textLength="89.8" lengthAdjust="spacing">Global tilt&#160; W*m-2*nm-1</text>
<line x1="168.4" y1="139.3" x2="185.3" y2="139.3" stroke="#e85050" stroke-width="1"/>
<text x="186.8" y="141.9" textLength="120.3" lengthAdjust="spacingAndGlyphs">Direct+circumsolar W*m-2*nm-1</text>
</g>
</svg>
</body></html>
